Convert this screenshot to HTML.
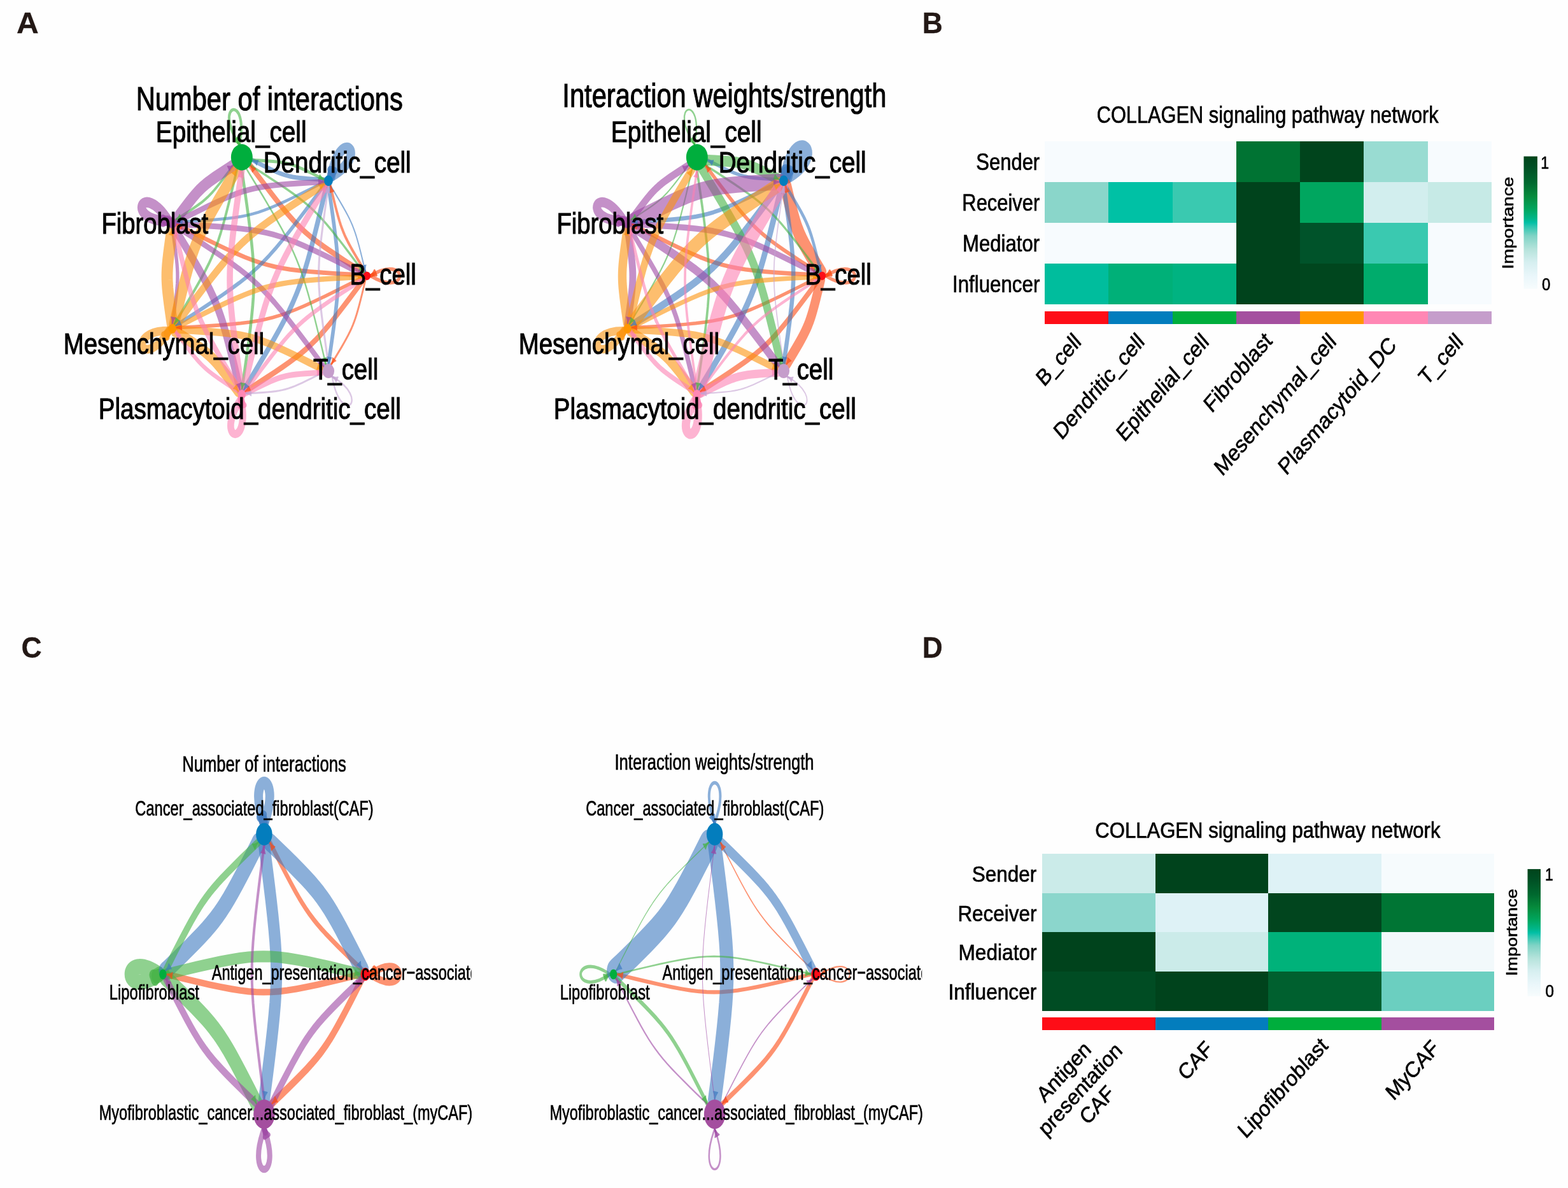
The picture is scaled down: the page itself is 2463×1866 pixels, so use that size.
<!DOCTYPE html>
<html lang="en"><head><meta charset="utf-8"><title>Figure</title>
<style>
html,body{margin:0;padding:0;background:#fefefe;}
body{width:2463px;height:1866px;overflow:hidden;}
svg{display:block;font-family:'Liberation Sans', sans-serif;}

</style></head>
<body>
<svg width="2463" height="1866" viewBox="0 0 2463 1866">
<rect width="2463" height="1866" fill="#fefefe"/>
<g fill="#231815">
<text transform="translate(26.08 52) scale(1.0250 1)" font-size="46.94" font-weight="bold" fill="#231815" stroke="#231815" stroke-width="0.3">A</text>
<text transform="translate(1448.87 52) scale(0.9448 1)" font-size="46.94" font-weight="bold" fill="#231815" stroke="#231815" stroke-width="0.3">B</text>
<text transform="translate(33.38 1032.6) scale(0.9484 1)" font-size="46.94" font-weight="bold" fill="#231815" stroke="#231815" stroke-width="0.3">C</text>
<text transform="translate(1448.87 1032.6) scale(0.9448 1)" font-size="46.94" font-weight="bold" fill="#231815" stroke="#231815" stroke-width="0.3">D</text>
</g>
<g shape-rendering="crispEdges">
<rect x="1641.2" y="221.7" width="100.74" height="64.58" fill="#f7fbfe"/>
<rect x="1741.44" y="221.7" width="100.74" height="64.58" fill="#f7fbfe"/>
<rect x="1841.69" y="221.7" width="100.74" height="64.58" fill="#f7fbfe"/>
<rect x="1941.93" y="221.7" width="100.74" height="64.58" fill="#007333"/>
<rect x="2042.17" y="221.7" width="100.74" height="64.58" fill="#00441c"/>
<rect x="2142.41" y="221.7" width="100.74" height="64.58" fill="#99dcd2"/>
<rect x="2242.66" y="221.7" width="100.24" height="64.58" fill="#f7fbfe"/>
<rect x="1641.2" y="285.77" width="100.74" height="64.58" fill="#8ad6ca"/>
<rect x="1741.44" y="285.77" width="100.74" height="64.58" fill="#00c1a5"/>
<rect x="1841.69" y="285.77" width="100.74" height="64.58" fill="#3ac9b0"/>
<rect x="1941.93" y="285.77" width="100.74" height="64.58" fill="#00431c"/>
<rect x="2042.17" y="285.77" width="100.74" height="64.58" fill="#00a65f"/>
<rect x="2142.41" y="285.77" width="100.74" height="64.58" fill="#d2eeee"/>
<rect x="2242.66" y="285.77" width="100.24" height="64.58" fill="#c6eae6"/>
<rect x="1641.2" y="349.85" width="100.74" height="64.58" fill="#f7fbfe"/>
<rect x="1741.44" y="349.85" width="100.74" height="64.58" fill="#f7fbfe"/>
<rect x="1841.69" y="349.85" width="100.74" height="64.58" fill="#f7fbfe"/>
<rect x="1941.93" y="349.85" width="100.74" height="64.58" fill="#00431c"/>
<rect x="2042.17" y="349.85" width="100.74" height="64.58" fill="#00532a"/>
<rect x="2142.41" y="349.85" width="100.74" height="64.58" fill="#3ac9b0"/>
<rect x="2242.66" y="349.85" width="100.24" height="64.58" fill="#f7fbfe"/>
<rect x="1641.2" y="413.93" width="100.74" height="64.08" fill="#00bd9d"/>
<rect x="1741.44" y="413.93" width="100.74" height="64.08" fill="#00b078"/>
<rect x="1841.69" y="413.93" width="100.74" height="64.08" fill="#00b381"/>
<rect x="1941.93" y="413.93" width="100.74" height="64.08" fill="#00431c"/>
<rect x="2042.17" y="413.93" width="100.74" height="64.08" fill="#00461e"/>
<rect x="2142.41" y="413.93" width="100.74" height="64.08" fill="#00ac6c"/>
<rect x="2242.66" y="413.93" width="100.24" height="64.08" fill="#f7fbfe"/>
<rect x="1641.2" y="488.7" width="100.74" height="19.9" fill="#fe0d17"/>
<rect x="1741.44" y="488.7" width="100.74" height="19.9" fill="#037dbd"/>
<rect x="1841.69" y="488.7" width="100.74" height="19.9" fill="#00ae3d"/>
<rect x="1941.93" y="488.7" width="100.74" height="19.9" fill="#a44f9f"/>
<rect x="2042.17" y="488.7" width="100.74" height="19.9" fill="#ff9600"/>
<rect x="2142.41" y="488.7" width="100.74" height="19.9" fill="#ff87b4"/>
<rect x="2242.66" y="488.7" width="100.24" height="19.9" fill="#c59dcb"/>
</g>
<linearGradient id="lgB" x1="0" y1="0" x2="0" y2="1"><stop offset="0" stop-color="#00441b"/><stop offset="0.08" stop-color="#004f24"/><stop offset="0.2" stop-color="#00692f"/><stop offset="0.3" stop-color="#068a3c"/><stop offset="0.4" stop-color="#00a65e"/><stop offset="0.47" stop-color="#00b689"/><stop offset="0.5" stop-color="#00bfa5"/><stop offset="0.53" stop-color="#2cc6b0"/><stop offset="0.6" stop-color="#7fd3c5"/><stop offset="0.7" stop-color="#b5e3db"/><stop offset="0.8" stop-color="#d6eff0"/><stop offset="0.9" stop-color="#e9f6fa"/><stop offset="1" stop-color="#f7fcfd"/></linearGradient>
<rect x="2393.5" y="245.6" width="21.4" height="208.1" fill="url(#lgB)"/>
<text transform="translate(1722.67 193) scale(0.8227 1)" font-size="37.41" stroke="#000" stroke-width="0.7">COLLAGEN signaling pathway network</text>
<text transform="translate(1533.26 267.2) scale(0.8286 1)" font-size="37.41" stroke="#000" stroke-width="0.7">Sender</text>
<text transform="translate(1511.34 330.6) scale(0.8255 1)" font-size="37.41" stroke="#000" stroke-width="0.7">Receiver</text>
<text transform="translate(1512.02 394.9) scale(0.8322 1)" font-size="37.41" stroke="#000" stroke-width="0.7">Mediator</text>
<text transform="translate(1495.99 459) scale(0.8360 1)" font-size="37.41" stroke="#000" stroke-width="0.7">Influencer</text>
<text transform="translate(2420.37 264.5) scale(0.8154 1)" font-size="28.45" stroke="#000" stroke-width="0.7">1</text>
<text transform="translate(2421.97 455.6) scale(0.8643 1)" font-size="27.74" stroke="#000" stroke-width="0.7">0</text>
<text transform="translate(2376.55 350.2) scale(0.8340 1.0000) rotate(-90)" font-size="29" text-anchor="middle" stroke="#000" stroke-width="0.7">Importance</text>
<text transform="translate(1700 538.7) scale(0.8580 1.0000) rotate(-45)" font-size="36.2" text-anchor="end" stroke="#000" stroke-width="0.7">B_cell</text>
<text transform="translate(1799.45 538.65) scale(0.8580 1.0000) rotate(-45)" font-size="36.2" text-anchor="end" stroke="#000" stroke-width="0.7">Dendritic_cell</text>
<text transform="translate(1900.55 538.85) scale(0.8580 1.0000) rotate(-45)" font-size="36.2" text-anchor="end" stroke="#000" stroke-width="0.7">Epithelial_cell</text>
<text transform="translate(1999.9 537.35) scale(0.8580 1.0000) rotate(-45)" font-size="36.2" text-anchor="end" stroke="#000" stroke-width="0.7">Fibroblast</text>
<text transform="translate(2100.6 538.55) scale(0.8580 1.0000) rotate(-45)" font-size="36.2" text-anchor="end" stroke="#000" stroke-width="0.7">Mesenchymal_cell</text>
<text transform="translate(2195.1 544.3) scale(0.8580 1.0000) rotate(-45)" font-size="36.2" text-anchor="end" stroke="#000" stroke-width="0.7">Plasmacytoid_DC</text>
<text transform="translate(2299.85 538.8) scale(0.8580 1.0000) rotate(-45)" font-size="36.2" text-anchor="end" stroke="#000" stroke-width="0.7">T_cell</text>
<g shape-rendering="crispEdges">
<rect x="1637.2" y="1341" width="178.03" height="62.23" fill="#cbebe9"/>
<rect x="1814.73" y="1341" width="178.03" height="62.23" fill="#00431c"/>
<rect x="1992.25" y="1341" width="178.03" height="62.23" fill="#def2f6"/>
<rect x="2169.78" y="1341" width="177.53" height="62.23" fill="#f6fbfd"/>
<rect x="1637.2" y="1402.72" width="178.03" height="62.23" fill="#8bd6cc"/>
<rect x="1814.73" y="1402.72" width="178.03" height="62.23" fill="#def2f6"/>
<rect x="1992.25" y="1402.72" width="178.03" height="62.23" fill="#01451e"/>
<rect x="2169.78" y="1402.72" width="177.53" height="62.23" fill="#007534"/>
<rect x="1637.2" y="1464.45" width="178.03" height="62.23" fill="#00431c"/>
<rect x="1814.73" y="1464.45" width="178.03" height="62.23" fill="#cbebe9"/>
<rect x="1992.25" y="1464.45" width="178.03" height="62.23" fill="#00b27a"/>
<rect x="2169.78" y="1464.45" width="177.53" height="62.23" fill="#f2f9fb"/>
<rect x="1637.2" y="1526.18" width="178.03" height="61.73" fill="#004c23"/>
<rect x="1814.73" y="1526.18" width="178.03" height="61.73" fill="#00431c"/>
<rect x="1992.25" y="1526.18" width="178.03" height="61.73" fill="#00602f"/>
<rect x="2169.78" y="1526.18" width="177.53" height="61.73" fill="#6bcfc0"/>
<rect x="1637.2" y="1597.8" width="178.03" height="19.7" fill="#fe0d17"/>
<rect x="1814.73" y="1597.8" width="178.03" height="19.7" fill="#037dbd"/>
<rect x="1992.25" y="1597.8" width="178.03" height="19.7" fill="#00ae3d"/>
<rect x="2169.78" y="1597.8" width="177.53" height="19.7" fill="#a44f9f"/>
</g>
<linearGradient id="lgD" x1="0" y1="0" x2="0" y2="1"><stop offset="0" stop-color="#00441b"/><stop offset="0.08" stop-color="#004f24"/><stop offset="0.2" stop-color="#00692f"/><stop offset="0.3" stop-color="#068a3c"/><stop offset="0.4" stop-color="#00a65e"/><stop offset="0.47" stop-color="#00b689"/><stop offset="0.5" stop-color="#00bfa5"/><stop offset="0.53" stop-color="#2cc6b0"/><stop offset="0.6" stop-color="#7fd3c5"/><stop offset="0.7" stop-color="#b5e3db"/><stop offset="0.8" stop-color="#d6eff0"/><stop offset="0.9" stop-color="#e9f6fa"/><stop offset="1" stop-color="#f7fcfd"/></linearGradient>
<rect x="2399.5" y="1365.1" width="20.5" height="199.6" fill="url(#lgD)"/>
<text transform="translate(1720.34 1315.6) scale(0.9065 1)" font-size="34.28" stroke="#000" stroke-width="0.7">COLLAGEN signaling pathway network</text>
<text transform="translate(1526.82 1384.9) scale(0.9183 1)" font-size="34.28" stroke="#000" stroke-width="0.7">Sender</text>
<text transform="translate(1504.41 1446.8) scale(0.9177 1)" font-size="34.28" stroke="#000" stroke-width="0.7">Receiver</text>
<text transform="translate(1505.49 1508.4) scale(0.9234 1)" font-size="34.28" stroke="#000" stroke-width="0.7">Mediator</text>
<text transform="translate(1489.43 1569.5) scale(0.9227 1)" font-size="34.28" stroke="#000" stroke-width="0.7">Influencer</text>
<text transform="translate(2426.94 1383.1) scale(0.8320 1)" font-size="27.6" stroke="#000" stroke-width="0.7">1</text>
<text transform="translate(2427.55 1565.6) scale(0.9037 1)" font-size="26.74" stroke="#000" stroke-width="0.7">0</text>
<text transform="translate(2382.55 1464.5) scale(0.8940 1.0000) rotate(-90)" font-size="27.4" text-anchor="middle" stroke="#000" stroke-width="0.7">Importance</text>
<text transform="translate(1906.9 1649.9) scale(0.9000 1.0000) rotate(-45)" font-size="34.5" text-anchor="end" stroke="#000" stroke-width="0.7">CAF</text>
<text transform="translate(2087.55 1644.35) scale(0.9000 1.0000) rotate(-45)" font-size="34.5" text-anchor="end" stroke="#000" stroke-width="0.7">Lipofibroblast</text>
<text transform="translate(2262.45 1648.35) scale(0.9000 1.0000) rotate(-45)" font-size="34.5" text-anchor="end" stroke="#000" stroke-width="0.7">MyCAF</text>
<text transform="translate(1678.5 1691.75) scale(0.9000 1.0000) rotate(-45)" font-size="34.5" text-anchor="middle" stroke="#000" stroke-width="0.7">Antigen</text>
<text transform="translate(1704.2 1719.2) scale(0.9000 1.0000) rotate(-45)" font-size="34.5" text-anchor="middle" stroke="#000" stroke-width="0.7">presentation</text>
<text transform="translate(1730.45 1743.95) scale(0.9000 1.0000) rotate(-45)" font-size="34.5" text-anchor="middle" stroke="#000" stroke-width="0.7">CAF</text>
<g transform="translate(423.6 433.35) scale(1 1.2188)" fill="none" stroke-linecap="round" stroke-linejoin="round">
<path d="M158.4 0 C219.56 -30.58 219.56 30.58 158.4 0Z" stroke="#fb4a12" stroke-opacity="0.6" stroke-width="4.6"/>
<path d="M162.07 -1.76 L158.4 0" stroke="#fb4a12" stroke-opacity="0.6" stroke-width="4.6"/>
<polygon points="164.66,-6.76 164.11,-5.81 163.45,-4.81 162.62,-3.73 161.46,-2.49 158.27,-0.28 158.54,0.28 162.26,-0.82 163.95,-0.95 165.32,-0.92 166.51,-0.81 167.59,-0.65" fill="#fb4a12" stroke="#fb4a12" opacity="0.75" stroke-width="3.22"/>
<path d="M96.62 -128 C110.85 -194.88 158.66 -156.75 96.62 -128Z" stroke="#3e7ac0" stroke-opacity="0.6" stroke-width="13.4"/>
<path d="M97.53 -131.96 L96.62 -128" stroke="#3e7ac0" stroke-opacity="0.6" stroke-width="13.4"/>
<polygon points="95.24,-137.1 95.64,-136.08 96.01,-134.94 96.34,-133.62 96.58,-131.93 96.32,-128.06 96.92,-127.93 98.38,-131.52 99.34,-132.93 100.21,-133.98 101.04,-134.84 101.84,-135.58" fill="#3e7ac0" stroke="#3e7ac0" opacity="0.75" stroke-width="9.38"/>
<path d="M-47.54 -169.45 C-90.96 -222.27 -31.33 -235.88 -47.54 -169.45Z" stroke="#44b244" stroke-opacity="0.6" stroke-width="4.05"/>
<path d="M-50.07 -172.63 L-47.54 -169.45" stroke="#44b244" stroke-opacity="0.6" stroke-width="4.05"/>
<polygon points="-55.52,-174.04 -54.47,-173.72 -53.35,-173.3 -52.11,-172.73 -50.64,-171.87 -47.78,-169.26 -47.3,-169.64 -49.2,-173.02 -49.7,-174.64 -49.98,-175.98 -50.13,-177.17 -50.21,-178.26" fill="#44b244" stroke="#44b244" opacity="0.75" stroke-width="2.84"/>
<path d="M-159.1 -71.03 C-227.47 -70.02 -200.93 -125.12 -159.1 -71.03Z" stroke="#9d46a3" stroke-opacity="0.6" stroke-width="13.4"/>
<path d="M-163.17 -71.04 L-159.1 -71.03" stroke="#9d46a3" stroke-opacity="0.6" stroke-width="13.4"/>
<polygon points="-167.67,-67.66 -166.76,-68.27 -165.73,-68.89 -164.52,-69.5 -162.93,-70.12 -159.1,-70.73 -159.1,-71.34 -162.93,-71.96 -164.51,-72.58 -165.73,-73.2 -166.75,-73.82 -167.66,-74.43" fill="#9d46a3" stroke="#9d46a3" opacity="0.75" stroke-width="9.38"/>
<path d="M-158.41 70.7 C-200.25 124.79 -226.78 69.69 -158.41 70.7Z" stroke="#fc930d" stroke-opacity="0.6" stroke-width="11.2"/>
<path d="M-160.95 73.88 L-158.41 70.7" stroke="#fc930d" stroke-opacity="0.6" stroke-width="11.2"/>
<polygon points="-161.11,79.5 -161.03,78.41 -160.87,77.23 -160.59,75.89 -160.08,74.27 -158.17,70.89 -158.65,70.51 -161.52,73.11 -163,73.97 -164.24,74.53 -165.36,74.95 -166.41,75.27" fill="#fc930d" stroke="#fc930d" opacity="0.75" stroke-width="7.84"/>
<path d="M-45.12 158.86 C-28.92 225.29 -88.54 211.68 -45.12 158.86Z" stroke="#fc80b2" stroke-opacity="0.6" stroke-width="10.65"/>
<path d="M-44.22 162.83 L-45.12 158.86" stroke="#fc80b2" stroke-opacity="0.6" stroke-width="10.65"/>
<polygon points="-39.93,166.46 -40.73,165.72 -41.55,164.85 -42.42,163.8 -43.38,162.39 -44.82,158.8 -45.42,158.93 -45.18,162.8 -45.43,164.48 -45.76,165.81 -46.13,166.94 -46.53,167.96" fill="#fc80b2" stroke="#fc80b2" opacity="0.75" stroke-width="7.46"/>
<path d="M98.05 129.79 C160.09 158.54 112.28 196.67 98.05 129.79Z" stroke="#c5a3d2" stroke-opacity="0.6" stroke-width="2.4"/>
<path d="M101.71 131.56 L98.05 129.79" stroke="#c5a3d2" stroke-opacity="0.6" stroke-width="2.4"/>
<polygon points="107.24,130.47 106.15,130.63 104.96,130.74 103.6,130.76 101.9,130.63 98.19,129.51 97.92,130.06 101.1,132.29 102.26,133.53 103.09,134.62 103.74,135.62 104.29,136.57" fill="#c5a3d2" stroke="#c5a3d2" opacity="0.75" stroke-width="1.68"/>
<path d="M150.46 -4.94 L150.29 -5.16 L149.25 -6.56 L146.88 -9.76 L143.24 -14.7 L138.83 -20.76 L134.24 -27.15 L129.94 -33.28 L126.14 -38.87 L122.88 -43.89 L120.1 -48.46 L117.67 -52.78 L115.49 -57.02 L113.45 -61.33 L111.5 -65.88 L109.56 -70.87 L107.55 -76.51 L105.42 -82.92 L103.16 -90.06 L100.87 -97.59 L98.74 -104.78 L97.03 -110.67 L95.93 -114.5 L95.46 -116.18 L95.38 -116.45" stroke="#fb4a12" stroke-opacity="0.6" stroke-width="3.83"/>
<path d="M148.55 -3.38 L148.1 -3.61 L145.28 -5.08 L138.84 -8.44 L128.96 -13.65 L116.91 -20.08 L104.3 -26.92 L92.37 -33.56 L81.71 -39.71 L72.38 -45.35 L64.18 -50.64 L56.78 -55.78 L49.82 -61 L43.05 -66.46 L36.24 -72.37 L29.1 -79.01 L21.33 -86.65 L12.74 -95.48 L3.36 -105.4 L-6.38 -115.93 L-15.58 -126.02 L-23.07 -134.32 L-27.91 -139.73 L-30.02 -142.1 L-30.36 -142.48" stroke="#fb4a12" stroke-opacity="0.6" stroke-width="7.35"/>
<path d="M147.53 -1.2 L146.85 -1.22 L142.63 -1.37 L133 -1.75 L118.18 -2.39 L100.06 -3.27 L81.05 -4.32 L62.96 -5.52 L46.67 -6.84 L32.27 -8.32 L19.43 -10.01 L7.63 -11.98 L-3.69 -14.29 L-14.91 -17 L-26.44 -20.22 L-38.78 -24.13 L-52.45 -28.9 L-67.77 -34.61 L-84.66 -41.2 L-102.32 -48.3 L-119.1 -55.19 L-132.79 -60.9 L-141.67 -64.64 L-145.56 -66.29 L-146.18 -66.55" stroke="#fb4a12" stroke-opacity="0.6" stroke-width="5.7"/>
<path d="M147.53 1.2 L146.9 1.46 L143.01 3.12 L134.1 6.86 L120.37 12.59 L103.55 19.49 L85.84 26.62 L68.91 33.22 L53.55 38.95 L39.85 43.72 L27.48 47.65 L15.92 50.88 L4.67 53.59 L-6.68 55.91 L-18.51 57.88 L-31.38 59.57 L-45.82 61.06 L-62.15 62.38 L-80.29 63.58 L-99.34 64.64 L-117.51 65.52 L-132.37 66.16 L-142.02 66.54 L-146.25 66.69 L-146.93 66.72" stroke="#fb4a12" stroke-opacity="0.6" stroke-width="4.6"/>
<path d="M148.55 3.38 L148.2 3.78 L145.98 6.27 L140.91 11.93 L133.06 20.63 L123.42 31.21 L113.22 42.24 L103.39 52.64 L94.39 61.88 L86.25 69.9 L78.76 76.85 L71.63 83.04 L64.53 88.76 L57.24 94.23 L49.48 99.62 L40.89 105.16 L31.12 111.07 L19.94 117.52 L7.44 124.48 L-5.77 131.65 L-18.4 138.39 L-28.76 143.85 L-35.5 147.37 L-38.46 148.9 L-38.93 149.15" stroke="#fb4a12" stroke-opacity="0.6" stroke-width="7.35"/>
<path d="M150.46 4.94 L150.39 5.2 L149.92 6.85 L148.84 10.61 L147.16 16.39 L145.07 23.44 L142.82 30.83 L140.61 37.85 L138.52 44.14 L136.55 49.67 L134.64 54.57 L132.73 59.03 L130.73 63.27 L128.58 67.43 L126.2 71.66 L123.47 76.15 L120.27 81.08 L116.54 86.56 L112.32 92.59 L107.82 98.86 L103.48 104.81 L99.91 109.66 L97.59 112.8 L96.56 114.17 L96.4 114.39" stroke="#fb4a12" stroke-opacity="0.6" stroke-width="2.84"/>
<path d="M95.38 -116.45 L95.55 -116.22 L96.59 -114.82 L98.97 -111.63 L102.6 -106.69 L107.01 -100.63 L111.6 -94.23 L115.91 -88.1 L119.7 -82.51 L122.96 -77.49 L125.74 -72.92 L128.17 -68.61 L130.36 -64.36 L132.39 -60.05 L134.34 -55.5 L136.28 -50.51 L138.29 -44.88 L140.42 -38.46 L142.68 -31.32 L144.97 -23.79 L147.1 -16.6 L148.81 -10.71 L149.91 -6.88 L150.39 -5.21 L150.46 -4.94" stroke="#3e7ac0" stroke-opacity="0.6" stroke-width="1.96"/>
<path d="M85.62 -124.11 L85.35 -124.12 L83.74 -124.18 L80.04 -124.32 L74.34 -124.57 L67.39 -124.91 L60.08 -125.31 L53.14 -125.77 L46.88 -126.28 L41.35 -126.85 L36.42 -127.5 L31.88 -128.25 L27.54 -129.14 L23.23 -130.18 L18.8 -131.42 L14.06 -132.92 L8.81 -134.75 L2.92 -136.94 L-3.56 -139.48 L-10.35 -142.2 L-16.79 -144.85 L-22.05 -147.04 L-25.46 -148.48 L-26.95 -149.11 L-27.19 -149.21" stroke="#3e7ac0" stroke-opacity="0.6" stroke-width="5.7"/>
<path d="M85.62 -121.12 L85.12 -120.91 L82.06 -119.61 L75.05 -116.66 L64.24 -112.16 L51 -106.72 L37.06 -101.11 L23.73 -95.91 L11.64 -91.4 L0.85 -87.64 L-8.89 -84.55 L-17.98 -82.01 L-26.85 -79.88 L-35.77 -78.05 L-45.09 -76.5 L-55.22 -75.17 L-66.58 -74 L-79.45 -72.95 L-93.72 -72.01 L-108.72 -71.18 L-123.02 -70.49 L-134.72 -69.98 L-142.32 -69.68 L-145.65 -69.56 L-146.18 -69.54" stroke="#3e7ac0" stroke-opacity="0.6" stroke-width="3.83"/>
<path d="M86.9 -118.39 L86.45 -117.89 L83.68 -114.77 L77.32 -107.67 L67.49 -96.78 L55.4 -83.52 L42.61 -69.69 L30.3 -56.66 L19.02 -45.07 L8.81 -35.03 L-0.57 -26.31 L-9.51 -18.55 L-18.41 -11.39 L-27.54 -4.53 L-37.27 2.22 L-48.03 9.17 L-60.28 16.58 L-74.29 24.66 L-89.96 33.38 L-106.51 42.36 L-122.34 50.81 L-135.32 57.65 L-143.77 62.06 L-147.47 63.98 L-148.07 64.29" stroke="#3e7ac0" stroke-opacity="0.6" stroke-width="5.15"/>
<path d="M89.29 -116.45 L89.1 -115.81 L87.98 -111.84 L85.38 -102.78 L81.33 -88.84 L76.29 -71.83 L70.87 -54.02 L65.53 -37.11 L60.49 -21.94 L55.74 -8.6 L51.15 3.2 L46.53 13.96 L41.71 24.17 L36.53 34.21 L30.79 44.42 L24.2 55.23 L16.5 67.11 L7.52 80.34 L-2.67 94.85 L-13.52 109.98 L-23.96 124.32 L-32.57 136.01 L-38.19 143.58 L-40.65 146.88 L-41.05 147.42" stroke="#3e7ac0" stroke-opacity="0.6" stroke-width="7.35"/>
<path d="M92.33 -115.74 L92.43 -115.23 L93.01 -112.07 L94.32 -104.84 L96.3 -93.72 L98.64 -80.1 L101 -65.8 L103.11 -52.15 L104.82 -39.82 L106.1 -28.87 L106.97 -19.04 L107.46 -9.94 L107.61 -1.15 L107.46 7.65 L106.97 16.75 L106.1 26.57 L104.82 37.52 L103.11 49.86 L101 63.5 L98.64 77.81 L96.3 91.42 L94.32 102.55 L93.01 109.77 L92.43 112.93 L92.33 113.44" stroke="#3e7ac0" stroke-opacity="0.6" stroke-width="5.7"/>
<path d="M-30.36 -142.48 L-29.91 -142.25 L-27.09 -140.78 L-20.65 -137.42 L-10.77 -132.21 L1.29 -125.78 L13.89 -118.94 L25.82 -112.3 L36.49 -106.15 L45.81 -100.51 L54.01 -95.22 L61.41 -90.08 L68.37 -84.86 L75.14 -79.4 L81.95 -73.5 L89.1 -66.85 L96.86 -59.21 L105.45 -50.39 L114.83 -40.46 L124.57 -29.93 L133.77 -19.84 L141.26 -11.54 L146.1 -6.14 L148.21 -3.76 L148.55 -3.38" stroke="#44b244" stroke-opacity="0.6" stroke-width="3.06"/>
<path d="M-27.19 -149.21 L-26.93 -149.2 L-25.31 -149.15 L-21.62 -149 L-15.92 -148.75 L-8.96 -148.42 L-1.66 -148.01 L5.29 -147.55 L11.54 -147.04 L17.07 -146.48 L22 -145.83 L26.54 -145.07 L30.88 -144.18 L35.2 -143.14 L39.62 -141.91 L44.36 -140.4 L49.61 -138.57 L55.5 -136.38 L61.98 -133.85 L68.77 -131.12 L75.21 -128.47 L80.47 -126.28 L83.88 -124.85 L85.38 -124.21 L85.62 -124.11" stroke="#44b244" stroke-opacity="0.6" stroke-width="4.05"/>
<path d="M-57.16 -142.48 L-57.33 -142.29 L-58.4 -141.09 L-60.84 -138.36 L-64.62 -134.17 L-69.27 -129.08 L-74.18 -123.77 L-78.91 -118.76 L-83.25 -114.3 L-87.17 -110.44 L-90.78 -107.09 L-94.21 -104.11 L-97.63 -101.36 L-101.15 -98.72 L-104.88 -96.13 L-109.02 -93.46 L-113.73 -90.61 L-119.11 -87.5 L-125.13 -84.15 L-131.49 -80.7 L-137.58 -77.45 L-142.57 -74.82 L-145.81 -73.13 L-147.24 -72.39 L-147.47 -72.27" stroke="#44b244" stroke-opacity="0.6" stroke-width="3.5"/>
<path d="M-51.28 -137.68 L-51.41 -137.2 L-52.27 -134.18 L-54.24 -127.31 L-57.32 -116.73 L-61.14 -103.83 L-65.25 -90.31 L-69.31 -77.47 L-73.13 -65.96 L-76.74 -55.84 L-80.22 -46.88 L-83.72 -38.72 L-87.38 -30.97 L-91.31 -23.35 L-95.67 -15.6 L-100.67 -7.4 L-106.51 1.62 L-113.33 11.66 L-121.06 22.67 L-129.3 34.15 L-137.22 45.04 L-143.75 53.91 L-148.02 59.65 L-149.89 62.16 L-150.19 62.56" stroke="#44b244" stroke-opacity="0.6" stroke-width="3.83"/>
<path d="M-43.76 -135.93 L-43.64 -135.3 L-42.92 -131.4 L-41.31 -122.49 L-38.87 -108.77 L-35.97 -91.97 L-33.06 -74.32 L-30.47 -57.49 L-28.36 -42.27 L-26.77 -28.77 L-25.7 -16.65 L-25.1 -5.42 L-24.91 5.43 L-25.1 16.28 L-25.7 27.51 L-26.77 39.62 L-28.36 53.13 L-30.47 68.35 L-33.06 85.18 L-35.97 102.83 L-38.87 119.62 L-41.31 133.35 L-42.92 142.26 L-43.64 146.16 L-43.76 146.78" stroke="#44b244" stroke-opacity="0.6" stroke-width="4.6"/>
<path d="M-36.24 -137.68 L-35.86 -137.17 L-33.51 -134.02 L-28.14 -126.78 L-19.92 -115.62 L-9.94 -101.92 L0.43 -87.47 L10.15 -73.6 L18.74 -60.96 L26.1 -49.62 L32.39 -39.28 L37.87 -29.54 L42.82 -19.95 L47.43 -10.19 L51.84 0.09 L56.22 11.36 L60.76 24.1 L65.58 38.6 L70.68 54.75 L75.85 71.77 L80.67 88.02 L84.54 101.33 L87.02 109.99 L88.1 113.78 L88.27 114.39" stroke="#44b244" stroke-opacity="0.6" stroke-width="2.4"/>
<path d="M-146.18 -66.55 L-145.5 -66.53 L-141.29 -66.37 L-131.66 -66 L-116.83 -65.36 L-98.72 -64.48 L-79.71 -63.42 L-61.62 -62.23 L-45.33 -60.91 L-30.93 -59.43 L-18.09 -57.74 L-6.29 -55.77 L5.03 -53.45 L16.26 -50.75 L27.78 -47.53 L40.13 -43.62 L53.79 -38.85 L69.11 -33.14 L86 -26.55 L103.66 -19.45 L120.44 -12.56 L134.14 -6.85 L143.02 -3.11 L146.9 -1.46 L147.53 -1.2" stroke="#9d46a3" stroke-opacity="0.6" stroke-width="7.35"/>
<path d="M-146.18 -69.54 L-145.69 -69.75 L-142.62 -71.05 L-135.62 -74 L-124.81 -78.51 L-111.57 -83.95 L-97.62 -89.55 L-84.3 -94.75 L-72.21 -99.26 L-61.42 -103.02 L-51.68 -106.11 L-42.58 -108.65 L-33.72 -110.78 L-24.79 -112.61 L-15.48 -114.16 L-5.34 -115.5 L6.02 -116.67 L18.88 -117.71 L33.15 -118.65 L48.16 -119.49 L62.45 -120.18 L74.15 -120.68 L81.75 -120.98 L85.08 -121.1 L85.62 -121.12" stroke="#9d46a3" stroke-opacity="0.6" stroke-width="7.35"/>
<path d="M-147.47 -72.27 L-147.3 -72.46 L-146.23 -73.66 L-143.79 -76.39 L-140.01 -80.58 L-135.36 -85.67 L-130.45 -90.99 L-125.71 -96 L-121.38 -100.45 L-117.46 -104.31 L-113.85 -107.66 L-110.41 -110.64 L-106.99 -113.4 L-103.48 -116.03 L-99.75 -118.63 L-95.61 -121.3 L-90.9 -124.14 L-85.52 -127.25 L-79.5 -130.6 L-73.13 -134.05 L-67.05 -137.3 L-62.06 -139.93 L-58.81 -141.63 L-57.39 -142.36 L-57.16 -142.48" stroke="#9d46a3" stroke-opacity="0.6" stroke-width="15.05"/>
<path d="M-152.9 -61.17 L-152.85 -60.89 L-152.54 -59.2 L-151.83 -55.32 L-150.77 -49.34 L-149.51 -42.03 L-148.24 -34.34 L-147.11 -27.01 L-146.19 -20.39 L-145.5 -14.51 L-145.04 -9.23 L-144.78 -4.34 L-144.69 0.38 L-144.78 5.11 L-145.04 10 L-145.5 15.27 L-146.19 21.15 L-147.11 27.78 L-148.24 35.11 L-149.51 42.79 L-150.77 50.1 L-151.83 56.08 L-152.54 59.96 L-152.85 61.66 L-152.9 61.93" stroke="#9d46a3" stroke-opacity="0.6" stroke-width="5.26"/>
<path d="M-149.85 -61.88 L-149.54 -61.46 L-147.58 -58.83 L-143.12 -52.83 L-136.3 -43.56 L-128.01 -32.19 L-119.41 -20.18 L-111.33 -8.67 L-104.2 1.82 L-98.09 11.24 L-92.87 19.82 L-88.31 27.91 L-84.21 35.88 L-80.38 43.98 L-76.72 52.51 L-73.08 61.87 L-69.31 72.45 L-65.31 84.49 L-61.08 97.9 L-56.78 112.03 L-52.78 125.52 L-49.57 136.57 L-47.51 143.76 L-46.61 146.91 L-46.47 147.42" stroke="#9d46a3" stroke-opacity="0.6" stroke-width="11.2"/>
<path d="M-147.47 -63.82 L-146.88 -63.52 L-143.21 -61.62 L-134.85 -57.25 L-122 -50.48 L-106.33 -42.12 L-89.95 -33.22 L-74.44 -24.59 L-60.58 -16.6 L-48.46 -9.26 L-37.8 -2.39 L-28.18 4.29 L-19.14 11.08 L-10.33 18.17 L-1.48 25.85 L7.8 34.48 L17.9 44.42 L29.07 55.89 L41.26 68.79 L53.91 82.47 L65.88 95.59 L75.61 106.37 L81.9 113.4 L84.65 116.49 L85.09 116.99" stroke="#9d46a3" stroke-opacity="0.6" stroke-width="7.35"/>
<path d="M-146.93 66.72 L-146.3 66.45 L-142.41 64.8 L-133.51 61.05 L-119.77 55.33 L-102.95 48.42 L-85.25 41.3 L-68.31 34.69 L-52.96 28.97 L-39.26 24.19 L-26.88 20.27 L-15.33 17.04 L-4.07 14.33 L7.27 12.01 L19.11 10.03 L31.98 8.34 L46.41 6.86 L62.75 5.53 L80.88 4.33 L99.94 3.27 L118.1 2.4 L132.97 1.75 L142.62 1.37 L146.84 1.22 L147.53 1.2" stroke="#fc930d" stroke-opacity="0.6" stroke-width="6.8"/>
<path d="M-148.07 64.29 L-147.62 63.79 L-144.85 60.67 L-138.49 53.57 L-128.66 42.68 L-116.57 29.42 L-103.78 15.59 L-91.47 2.56 L-80.19 -9.03 L-69.98 -19.07 L-60.6 -27.79 L-51.66 -35.55 L-42.76 -42.71 L-33.63 -49.57 L-23.9 -56.32 L-13.14 -63.27 L-0.89 -70.68 L13.12 -78.76 L28.79 -87.48 L45.34 -96.46 L61.16 -104.91 L74.15 -111.75 L82.6 -116.16 L86.3 -118.08 L86.9 -118.39" stroke="#fc930d" stroke-opacity="0.6" stroke-width="10.1"/>
<path d="M-150.19 62.56 L-150.05 62.08 L-149.2 59.06 L-147.23 52.19 L-144.15 41.61 L-140.33 28.71 L-136.21 15.19 L-132.16 2.35 L-128.34 -9.16 L-124.73 -19.28 L-121.25 -28.24 L-117.75 -36.4 L-114.08 -44.15 L-110.16 -51.77 L-105.8 -59.52 L-100.8 -67.72 L-94.96 -76.74 L-88.14 -86.78 L-80.41 -97.79 L-72.17 -109.27 L-64.25 -120.16 L-57.72 -129.03 L-53.45 -134.77 L-51.58 -137.28 L-51.28 -137.68" stroke="#fc930d" stroke-opacity="0.6" stroke-width="16.15"/>
<path d="M-152.9 61.93 L-152.95 61.66 L-153.26 59.96 L-153.97 56.08 L-155.03 50.1 L-156.29 42.79 L-157.56 35.11 L-158.69 27.78 L-159.61 21.15 L-160.3 15.27 L-160.76 10 L-161.02 5.11 L-161.11 0.38 L-161.02 -4.34 L-160.76 -9.23 L-160.3 -14.51 L-159.61 -20.39 L-158.69 -27.01 L-157.56 -34.34 L-156.29 -42.03 L-155.03 -49.34 L-153.97 -55.32 L-153.26 -59.2 L-152.95 -60.89 L-152.9 -61.17" stroke="#fc930d" stroke-opacity="0.6" stroke-width="17.8"/>
<path d="M-148.07 71.8 L-147.82 71.93 L-146.25 72.74 L-142.67 74.61 L-137.18 77.51 L-130.47 81.09 L-123.47 84.89 L-116.83 88.58 L-110.9 92 L-105.72 95.14 L-101.16 98.08 L-97.04 100.94 L-93.17 103.84 L-89.41 106.88 L-85.62 110.16 L-81.65 113.85 L-77.33 118.1 L-72.55 123.01 L-67.34 128.53 L-61.93 134.38 L-56.81 139.99 L-52.65 144.61 L-49.95 147.61 L-48.78 148.93 L-48.59 149.15" stroke="#fc930d" stroke-opacity="0.6" stroke-width="14.5"/>
<path d="M-146.93 69.38 L-146.4 69.39 L-143.09 69.51 L-135.54 69.81 L-123.92 70.31 L-109.71 71 L-94.81 71.83 L-80.62 72.77 L-67.84 73.8 L-56.55 74.96 L-46.49 76.29 L-37.23 77.83 L-28.36 79.65 L-19.56 81.76 L-10.52 84.29 L-0.84 87.36 L9.88 91.1 L21.89 95.58 L35.13 100.74 L48.98 106.31 L62.14 111.71 L72.88 116.19 L79.84 119.12 L82.89 120.41 L83.38 120.62" stroke="#fc930d" stroke-opacity="0.6" stroke-width="9.55"/>
<path d="M-38.93 149.15 L-38.58 148.74 L-36.36 146.26 L-31.29 140.59 L-23.44 131.9 L-13.8 121.32 L-3.59 110.29 L6.23 99.89 L15.23 90.64 L23.37 82.63 L30.86 75.67 L38 69.48 L45.09 63.76 L52.38 58.29 L60.14 52.9 L68.73 47.37 L78.5 41.45 L89.68 35.01 L102.18 28.05 L115.39 20.88 L128.02 14.14 L138.38 8.68 L145.12 5.16 L148.08 3.62 L148.55 3.38" stroke="#fc80b2" stroke-opacity="0.6" stroke-width="5.7"/>
<path d="M-41.05 147.42 L-40.87 146.78 L-39.75 142.81 L-37.15 133.75 L-33.1 119.81 L-28.06 102.8 L-22.64 84.99 L-17.3 68.08 L-12.25 52.9 L-7.5 39.57 L-2.92 27.77 L1.7 17.01 L6.53 6.8 L11.7 -3.24 L17.44 -13.45 L24.03 -24.26 L31.73 -36.14 L40.72 -49.37 L50.9 -63.88 L61.75 -79.01 L72.2 -93.35 L80.8 -105.04 L86.42 -112.61 L88.89 -115.91 L89.29 -116.45" stroke="#fc80b2" stroke-opacity="0.6" stroke-width="9"/>
<path d="M-43.76 146.78 L-43.88 146.16 L-44.6 142.26 L-46.21 133.35 L-48.65 119.62 L-51.55 102.83 L-54.46 85.18 L-57.05 68.35 L-59.17 53.13 L-60.75 39.62 L-61.82 27.51 L-62.42 16.28 L-62.61 5.43 L-62.42 -5.42 L-61.82 -16.65 L-60.75 -28.77 L-59.17 -42.27 L-57.05 -57.49 L-54.46 -74.32 L-51.55 -91.97 L-48.65 -108.77 L-46.21 -122.49 L-44.6 -131.4 L-43.88 -135.3 L-43.76 -135.93" stroke="#fc80b2" stroke-opacity="0.6" stroke-width="9.55"/>
<path d="M-46.47 147.42 L-46.79 146.99 L-48.74 144.37 L-53.2 138.37 L-60.02 129.1 L-68.31 117.72 L-76.92 105.72 L-84.99 94.21 L-92.12 83.72 L-98.23 74.3 L-103.46 65.72 L-108.01 57.62 L-112.11 49.66 L-115.94 41.56 L-119.6 33.03 L-123.24 23.67 L-127.01 13.09 L-131.01 1.05 L-135.24 -12.36 L-139.54 -26.49 L-143.54 -39.98 L-146.76 -51.03 L-148.82 -58.22 L-149.71 -61.37 L-149.85 -61.88" stroke="#fc80b2" stroke-opacity="0.6" stroke-width="7.35"/>
<path d="M-48.59 149.15 L-48.84 149.02 L-50.41 148.2 L-53.99 146.33 L-59.49 143.44 L-66.19 139.86 L-73.19 136.06 L-79.83 132.36 L-85.76 128.94 L-90.94 125.81 L-95.5 122.87 L-99.62 120.01 L-103.49 117.11 L-107.25 114.07 L-111.04 110.79 L-115.01 107.1 L-119.33 102.84 L-124.11 97.94 L-129.32 92.42 L-134.73 86.57 L-139.85 80.95 L-144.02 76.34 L-146.71 73.33 L-147.88 72.01 L-148.07 71.8" stroke="#fc80b2" stroke-opacity="0.6" stroke-width="5.7"/>
<path d="M-37.79 151.57 L-37.53 151.46 L-35.93 150.78 L-32.27 149.24 L-26.62 146.88 L-19.7 144.04 L-12.41 141.11 L-5.44 138.39 L0.88 136.04 L6.52 134.07 L11.61 132.46 L16.36 131.13 L21 130.01 L25.66 129.06 L30.53 128.25 L35.83 127.55 L41.77 126.94 L48.49 126.39 L55.95 125.9 L63.8 125.46 L71.27 125.1 L77.39 124.84 L81.36 124.68 L83.1 124.62 L83.38 124.61" stroke="#fc80b2" stroke-opacity="0.6" stroke-width="7.35"/>
<path d="M92.33 113.44 L92.24 112.93 L91.65 109.77 L90.34 102.55 L88.37 91.42 L86.02 77.81 L83.66 63.5 L81.56 49.86 L79.84 37.52 L78.56 26.57 L77.69 16.75 L77.21 7.65 L77.05 -1.15 L77.21 -9.94 L77.69 -19.04 L78.56 -28.87 L79.84 -39.82 L81.56 -52.15 L83.66 -65.8 L86.02 -80.1 L88.37 -93.72 L90.34 -104.84 L91.65 -112.07 L92.24 -115.23 L92.33 -115.74" stroke="#c5a3d2" stroke-opacity="0.6" stroke-width="3.06"/>
<path d="M83.38 124.61 L83.12 124.72 L81.52 125.4 L77.85 126.94 L72.2 129.3 L65.28 132.14 L57.99 135.07 L51.03 137.79 L44.71 140.14 L39.07 142.11 L33.98 143.72 L29.22 145.05 L24.59 146.17 L19.92 147.12 L15.05 147.94 L9.76 148.63 L3.82 149.24 L-2.91 149.79 L-10.37 150.28 L-18.21 150.72 L-25.68 151.08 L-31.8 151.34 L-35.77 151.5 L-37.51 151.56 L-37.79 151.57" stroke="#c5a3d2" stroke-opacity="0.6" stroke-width="2.4"/>
<polygon points="101.05,-109.19 100.21,-109.89 99.32,-110.7 98.39,-111.69 97.35,-113.04 95.67,-116.53 95.09,-116.36 95.58,-112.51 95.44,-110.82 95.19,-109.48 94.89,-108.32 94.55,-107.28" fill="#fb4a12" stroke="#fb4a12" opacity="0.7" stroke-width="1.2"/>
<polygon points="-22.09,-138.43 -23.16,-138.68 -24.31,-139.03 -25.58,-139.51 -27.1,-140.27 -30.14,-142.69 -30.59,-142.28 -28.47,-139.03 -27.86,-137.44 -27.49,-136.13 -27.26,-134.95 -27.11,-133.87" fill="#fb4a12" stroke="#fb4a12" opacity="0.7" stroke-width="1.2"/>
<polygon points="-136.98,-66.42 -138.05,-66.2 -139.23,-66.02 -140.59,-65.91 -142.29,-65.95 -146.07,-66.84 -146.3,-66.27 -142.99,-64.24 -141.76,-63.07 -140.87,-62.03 -140.16,-61.07 -139.56,-60.16" fill="#fb4a12" stroke="#fb4a12" opacity="0.7" stroke-width="1.2"/>
<polygon points="-138.54,62.93 -139.41,63.59 -140.41,64.25 -141.59,64.93 -143.15,65.62 -146.94,66.41 -146.92,67.02 -143.06,67.46 -141.45,68 -140.2,68.56 -139.15,69.13 -138.22,69.7" fill="#fb4a12" stroke="#fb4a12" opacity="0.7" stroke-width="1.2"/>
<polygon points="-32.97,142.13 -33.47,143.1 -34.09,144.13 -34.87,145.24 -35.99,146.53 -39.08,148.88 -38.79,149.42 -35.12,148.16 -33.43,147.96 -32.07,147.93 -30.87,148 -29.78,148.12" fill="#fb4a12" stroke="#fb4a12" opacity="0.7" stroke-width="1.2"/>
<polygon points="98.71,105.48 98.67,106.57 98.57,107.76 98.35,109.11 97.91,110.75 96.15,114.21 96.64,114.57 99.4,111.84 100.83,110.93 102.05,110.31 103.15,109.84 104.18,109.47" fill="#fb4a12" stroke="#fb4a12" opacity="0.7" stroke-width="1.2"/>
<polygon points="144.79,-12.19 145.64,-11.5 146.52,-10.69 147.45,-9.69 148.49,-8.35 150.17,-4.85 150.76,-5.02 150.26,-8.87 150.41,-10.56 150.65,-11.91 150.95,-13.06 151.29,-14.11" fill="#3e7ac0" stroke="#3e7ac0" opacity="0.7" stroke-width="1.2"/>
<polygon points="-17.99,-149.08 -19.06,-148.86 -20.24,-148.68 -21.6,-148.57 -23.3,-148.61 -27.08,-149.5 -27.31,-148.93 -24.01,-146.9 -22.77,-145.73 -21.88,-144.69 -21.17,-143.73 -20.57,-142.82" fill="#3e7ac0" stroke="#3e7ac0" opacity="0.7" stroke-width="1.2"/>
<polygon points="-137.79,-73.33 -138.66,-72.67 -139.66,-72.01 -140.85,-71.33 -142.4,-70.64 -146.2,-69.85 -146.17,-69.24 -142.32,-68.8 -140.7,-68.26 -139.46,-67.7 -138.4,-67.13 -137.47,-66.56" fill="#3e7ac0" stroke="#3e7ac0" opacity="0.7" stroke-width="1.2"/>
<polygon points="-142.1,57.28 -142.61,58.25 -143.23,59.28 -144.01,60.39 -145.12,61.68 -148.22,64.02 -147.93,64.56 -144.26,63.31 -142.57,63.11 -141.2,63.08 -140.01,63.14 -138.92,63.26" fill="#3e7ac0" stroke="#3e7ac0" opacity="0.7" stroke-width="1.2"/>
<polygon points="-38.74,138.5 -38.77,139.6 -38.88,140.79 -39.1,142.14 -39.54,143.78 -41.3,147.24 -40.81,147.6 -38.05,144.87 -36.62,143.95 -35.4,143.33 -34.3,142.87 -33.27,142.5" fill="#3e7ac0" stroke="#3e7ac0" opacity="0.7" stroke-width="1.2"/>
<polygon points="90.46,104.43 90.91,105.42 91.34,106.54 91.74,107.84 92.08,109.51 92.03,113.39 92.63,113.49 93.9,109.83 94.78,108.37 95.59,107.28 96.37,106.37 97.14,105.59" fill="#3e7ac0" stroke="#3e7ac0" opacity="0.7" stroke-width="1.2"/>
<polygon points="140.29,-7.43 141.35,-7.18 142.5,-6.84 143.77,-6.35 145.3,-5.59 148.33,-3.17 148.78,-3.58 146.66,-6.83 146.05,-8.42 145.69,-9.74 145.45,-10.91 145.3,-11.99" fill="#44b244" stroke="#44b244" opacity="0.7" stroke-width="1.2"/>
<polygon points="76.41,-124.24 77.48,-124.47 78.66,-124.65 80.02,-124.75 81.72,-124.72 85.5,-123.83 85.73,-124.39 82.43,-126.42 81.2,-127.6 80.31,-128.63 79.59,-129.59 78.99,-130.51" fill="#44b244" stroke="#44b244" opacity="0.7" stroke-width="1.2"/>
<polygon points="-141.5,-79.28 -142.01,-78.31 -142.63,-77.29 -143.41,-76.17 -144.52,-74.88 -147.61,-72.54 -147.32,-72 -143.65,-73.25 -141.96,-73.46 -140.6,-73.48 -139.41,-73.42 -138.32,-73.3" fill="#44b244" stroke="#44b244" opacity="0.7" stroke-width="1.2"/>
<polygon points="-147.88,53.65 -147.91,54.74 -148.02,55.94 -148.24,57.28 -148.68,58.93 -150.44,62.38 -149.94,62.74 -147.19,60.01 -145.76,59.1 -144.54,58.48 -143.44,58.01 -142.41,57.65" fill="#44b244" stroke="#44b244" opacity="0.7" stroke-width="1.2"/>
<polygon points="-45.63,137.77 -45.18,138.76 -44.75,139.88 -44.35,141.19 -44.01,142.85 -44.06,146.73 -43.46,146.84 -42.2,143.17 -41.32,141.71 -40.5,140.62 -39.72,139.71 -38.96,138.93" fill="#44b244" stroke="#44b244" opacity="0.7" stroke-width="1.2"/>
<polygon points="82.6,107.14 83.44,107.83 84.33,108.64 85.26,109.63 86.3,110.98 87.98,114.48 88.56,114.3 88.07,110.46 88.21,108.76 88.46,107.42 88.76,106.26 89.1,105.22" fill="#44b244" stroke="#44b244" opacity="0.7" stroke-width="1.2"/>
<polygon points="138.32,-1.33 139.39,-1.55 140.57,-1.73 141.93,-1.84 143.64,-1.8 147.41,-0.91 147.64,-1.48 144.34,-3.51 143.11,-4.68 142.22,-5.72 141.5,-6.68 140.9,-7.59" fill="#9d46a3" stroke="#9d46a3" opacity="0.7" stroke-width="1.2"/>
<polygon points="77.22,-117.33 78.1,-117.99 79.09,-118.66 80.28,-119.33 81.83,-120.02 85.63,-120.82 85.6,-121.43 81.75,-121.86 80.13,-122.4 78.89,-122.96 77.84,-123.53 76.9,-124.1" fill="#9d46a3" stroke="#9d46a3" opacity="0.7" stroke-width="1.2"/>
<polygon points="-63.13,-135.47 -62.62,-136.44 -62,-137.46 -61.22,-138.58 -60.11,-139.87 -57.02,-142.21 -57.3,-142.75 -60.97,-141.5 -62.66,-141.3 -64.03,-141.27 -65.22,-141.33 -66.31,-141.45" fill="#9d46a3" stroke="#9d46a3" opacity="0.7" stroke-width="1.2"/>
<polygon points="-154.77,52.92 -154.32,53.91 -153.89,55.03 -153.49,56.33 -153.15,58 -153.2,61.88 -152.6,61.98 -151.34,58.32 -150.46,56.86 -149.64,55.77 -148.86,54.86 -148.1,54.07" fill="#9d46a3" stroke="#9d46a3" opacity="0.7" stroke-width="1.2"/>
<polygon points="-52.14,140.16 -51.3,140.86 -50.41,141.66 -49.48,142.66 -48.44,144 -46.76,147.5 -46.18,147.33 -46.67,143.48 -46.53,141.79 -46.28,140.45 -45.98,139.29 -45.64,138.25" fill="#9d46a3" stroke="#9d46a3" opacity="0.7" stroke-width="1.2"/>
<polygon points="76.82,112.93 77.89,113.18 79.03,113.53 80.31,114.01 81.83,114.77 84.86,117.19 85.32,116.78 83.2,113.53 82.58,111.94 82.22,110.63 81.99,109.45 81.84,108.37" fill="#9d46a3" stroke="#9d46a3" opacity="0.7" stroke-width="1.2"/>
<polygon points="139.13,4.98 140.01,4.32 141,3.66 142.19,2.99 143.75,2.3 147.54,1.5 147.51,0.89 143.66,0.45 142.05,-0.09 140.8,-0.65 139.75,-1.21 138.81,-1.79" fill="#fc930d" stroke="#fc930d" opacity="0.7" stroke-width="1.2"/>
<polygon points="80.93,-111.38 81.44,-112.35 82.06,-113.38 82.84,-114.49 83.95,-115.78 87.04,-118.12 86.76,-118.66 83.09,-117.41 81.4,-117.21 80.03,-117.18 78.84,-117.24 77.75,-117.36" fill="#fc930d" stroke="#fc930d" opacity="0.7" stroke-width="1.2"/>
<polygon points="-53.59,-128.77 -53.56,-129.86 -53.45,-131.06 -53.23,-132.4 -52.79,-134.05 -51.03,-137.5 -51.52,-137.86 -54.28,-135.13 -55.71,-134.22 -56.93,-133.6 -58.03,-133.13 -59.06,-132.77" fill="#fc930d" stroke="#fc930d" opacity="0.7" stroke-width="1.2"/>
<polygon points="-151.03,-52.15 -151.48,-53.15 -151.91,-54.26 -152.31,-55.57 -152.65,-57.24 -152.6,-61.11 -153.2,-61.22 -154.46,-57.55 -155.34,-56.09 -156.16,-55 -156.94,-54.1 -157.7,-53.31" fill="#fc930d" stroke="#fc930d" opacity="0.7" stroke-width="1.2"/>
<polygon points="-56.86,145.09 -55.79,145.35 -54.65,145.69 -53.37,146.18 -51.85,146.93 -48.82,149.35 -48.36,148.94 -50.48,145.69 -51.09,144.1 -51.46,142.79 -51.69,141.62 -51.84,140.53" fill="#fc930d" stroke="#fc930d" opacity="0.7" stroke-width="1.2"/>
<polygon points="74.17,120.49 75.24,120.27 76.42,120.09 77.78,119.98 79.49,120.02 83.26,120.91 83.49,120.34 80.19,118.31 78.96,117.14 78.07,116.1 77.35,115.14 76.75,114.23" fill="#fc930d" stroke="#fc930d" opacity="0.7" stroke-width="1.2"/>
<polygon points="142.59,10.39 143.1,9.42 143.71,8.4 144.5,7.28 145.61,5.99 148.7,3.65 148.41,3.11 144.74,4.36 143.05,4.56 141.69,4.59 140.49,4.53 139.4,4.41" fill="#fc80b2" stroke="#fc80b2" opacity="0.7" stroke-width="1.2"/>
<polygon points="86.97,-107.53 87.01,-108.63 87.11,-109.82 87.33,-111.17 87.77,-112.81 89.53,-116.27 89.04,-116.63 86.28,-113.9 84.85,-112.98 83.63,-112.36 82.53,-111.9 81.5,-111.53" fill="#fc80b2" stroke="#fc80b2" opacity="0.7" stroke-width="1.2"/>
<polygon points="-41.89,-126.91 -42.34,-127.91 -42.77,-129.02 -43.17,-130.33 -43.51,-132 -43.46,-135.88 -44.06,-135.98 -45.33,-132.31 -46.2,-130.86 -47.02,-129.76 -47.8,-128.86 -48.56,-128.07" fill="#fc80b2" stroke="#fc80b2" opacity="0.7" stroke-width="1.2"/>
<polygon points="-144.18,-54.62 -145.03,-55.32 -145.91,-56.13 -146.84,-57.12 -147.88,-58.47 -149.56,-61.96 -150.15,-61.79 -149.65,-57.94 -149.8,-56.25 -150.04,-54.91 -150.34,-53.75 -150.68,-52.71" fill="#fc80b2" stroke="#fc80b2" opacity="0.7" stroke-width="1.2"/>
<polygon points="-139.8,75.86 -140.87,75.6 -142.01,75.26 -143.29,74.77 -144.81,74.01 -147.85,71.6 -148.3,72.01 -146.18,75.25 -145.57,76.84 -145.2,78.16 -144.97,79.33 -144.82,80.42" fill="#fc80b2" stroke="#fc80b2" opacity="0.7" stroke-width="1.2"/>
<polygon points="74.98,128.4 75.86,127.74 76.85,127.07 78.04,126.4 79.6,125.71 83.39,124.91 83.36,124.3 79.51,123.87 77.9,123.33 76.65,122.77 75.6,122.2 74.67,121.63" fill="#fc80b2" stroke="#fc80b2" opacity="0.7" stroke-width="1.2"/>
<polygon points="94.21,-106.72 93.75,-107.72 93.32,-108.83 92.92,-110.14 92.59,-111.81 92.63,-115.68 92.03,-115.79 90.77,-112.12 89.89,-110.66 89.07,-109.57 88.29,-108.66 87.53,-107.88" fill="#c5a3d2" stroke="#c5a3d2" opacity="0.7" stroke-width="1.2"/>
<polygon points="-29.4,147.78 -30.27,148.44 -31.27,149.11 -32.45,149.78 -34.01,150.47 -37.81,151.27 -37.78,151.88 -33.92,152.31 -32.31,152.85 -31.06,153.41 -30.01,153.98 -29.08,154.55" fill="#c5a3d2" stroke="#c5a3d2" opacity="0.7" stroke-width="1.2"/>
<circle cx="152.9" cy="-0" r="5.5" fill="#fe0d17" stroke="none"/>
<circle cx="92.33" cy="-122.62" r="6.88" fill="#037dbd" stroke="none"/>
<circle cx="-43.76" cy="-152.9" r="16.97" fill="#00ae3d" stroke="none"/>
<circle cx="-152.9" cy="-68.05" r="6.88" fill="#a44f9f" stroke="none"/>
<circle cx="-152.9" cy="68.05" r="6.12" fill="#ff9600" stroke="none"/>
<circle cx="-43.76" cy="152.9" r="6.12" fill="#ff87b4" stroke="none"/>
<circle cx="92.33" cy="122.62" r="9.17" fill="#c59dcb" stroke="none"/>
</g>
<g transform="translate(1138.6 433.35) scale(1 1.2188)" fill="none" stroke-linecap="round" stroke-linejoin="round">
<path d="M158.4 0 C219.56 -30.58 219.56 30.58 158.4 0Z" stroke="#fb4a12" stroke-opacity="0.6" stroke-width="4.44"/>
<path d="M162.07 -1.76 L158.4 0" stroke="#fb4a12" stroke-opacity="0.6" stroke-width="4.44"/>
<polygon points="164.66,-6.76 164.11,-5.81 163.45,-4.81 162.62,-3.73 161.46,-2.49 158.27,-0.28 158.54,0.28 162.26,-0.82 163.95,-0.95 165.32,-0.92 166.51,-0.81 167.59,-0.65" fill="#fb4a12" stroke="#fb4a12" opacity="0.75" stroke-width="3.11"/>
<path d="M96.62 -128 C110.85 -194.88 158.66 -156.75 96.62 -128Z" stroke="#3e7ac0" stroke-opacity="0.6" stroke-width="19.28"/>
<path d="M97.53 -131.96 L96.62 -128" stroke="#3e7ac0" stroke-opacity="0.6" stroke-width="19.28"/>
<polygon points="95.24,-137.1 95.64,-136.08 96.01,-134.94 96.34,-133.62 96.58,-131.93 96.32,-128.06 96.92,-127.93 98.38,-131.52 99.34,-132.93 100.21,-133.98 101.04,-134.84 101.84,-135.58" fill="#3e7ac0" stroke="#3e7ac0" opacity="0.75" stroke-width="13.5"/>
<path d="M-47.54 -169.45 C-90.96 -222.27 -31.33 -235.88 -47.54 -169.45Z" stroke="#44b244" stroke-opacity="0.6" stroke-width="2.32"/>
<path d="M-50.07 -172.63 L-47.54 -169.45" stroke="#44b244" stroke-opacity="0.6" stroke-width="2.32"/>
<polygon points="-55.52,-174.04 -54.47,-173.72 -53.35,-173.3 -52.11,-172.73 -50.64,-171.87 -47.78,-169.26 -47.3,-169.64 -49.2,-173.02 -49.7,-174.64 -49.98,-175.98 -50.13,-177.17 -50.21,-178.26" fill="#44b244" stroke="#44b244" opacity="0.75" stroke-width="1.62"/>
<path d="M-159.1 -71.03 C-227.47 -70.02 -200.93 -125.12 -159.1 -71.03Z" stroke="#9d46a3" stroke-opacity="0.6" stroke-width="12.92"/>
<path d="M-163.17 -71.04 L-159.1 -71.03" stroke="#9d46a3" stroke-opacity="0.6" stroke-width="12.92"/>
<polygon points="-167.67,-67.66 -166.76,-68.27 -165.73,-68.89 -164.52,-69.5 -162.93,-70.12 -159.1,-70.73 -159.1,-71.34 -162.93,-71.96 -164.51,-72.58 -165.73,-73.2 -166.75,-73.82 -167.66,-74.43" fill="#9d46a3" stroke="#9d46a3" opacity="0.75" stroke-width="9.04"/>
<path d="M-158.41 70.7 C-200.25 124.79 -226.78 69.69 -158.41 70.7Z" stroke="#fc930d" stroke-opacity="0.6" stroke-width="10.8"/>
<path d="M-160.95 73.88 L-158.41 70.7" stroke="#fc930d" stroke-opacity="0.6" stroke-width="10.8"/>
<polygon points="-161.11,79.5 -161.03,78.41 -160.87,77.23 -160.59,75.89 -160.08,74.27 -158.17,70.89 -158.65,70.51 -161.52,73.11 -163,73.97 -164.24,74.53 -165.36,74.95 -166.41,75.27" fill="#fc930d" stroke="#fc930d" opacity="0.75" stroke-width="7.56"/>
<path d="M-45.12 158.86 C-28.92 225.29 -88.54 211.68 -45.12 158.86Z" stroke="#fc80b2" stroke-opacity="0.6" stroke-width="12.92"/>
<path d="M-44.22 162.83 L-45.12 158.86" stroke="#fc80b2" stroke-opacity="0.6" stroke-width="12.92"/>
<polygon points="-39.93,166.46 -40.73,165.72 -41.55,164.85 -42.42,163.8 -43.38,162.39 -44.82,158.8 -45.42,158.93 -45.18,162.8 -45.43,164.48 -45.76,165.81 -46.13,166.94 -46.53,167.96" fill="#fc80b2" stroke="#fc80b2" opacity="0.75" stroke-width="9.04"/>
<path d="M98.05 129.79 C160.09 158.54 112.28 196.67 98.05 129.79Z" stroke="#c5a3d2" stroke-opacity="0.6" stroke-width="1.79"/>
<path d="M101.71 131.56 L98.05 129.79" stroke="#c5a3d2" stroke-opacity="0.6" stroke-width="1.79"/>
<polygon points="107.24,130.47 106.15,130.63 104.96,130.74 103.6,130.76 101.9,130.63 98.19,129.51 97.92,130.06 101.1,132.29 102.26,133.53 103.09,134.62 103.74,135.62 104.29,136.57" fill="#c5a3d2" stroke="#c5a3d2" opacity="0.75" stroke-width="1.25"/>
<path d="M150.46 -4.94 L150.29 -5.16 L149.25 -6.56 L146.88 -9.76 L143.24 -14.7 L138.83 -20.76 L134.24 -27.15 L129.94 -33.28 L126.14 -38.87 L122.88 -43.89 L120.1 -48.46 L117.67 -52.78 L115.49 -57.02 L113.45 -61.33 L111.5 -65.88 L109.56 -70.87 L107.55 -76.51 L105.42 -82.92 L103.16 -90.06 L100.87 -97.59 L98.74 -104.78 L97.03 -110.67 L95.93 -114.5 L95.46 -116.18 L95.38 -116.45" stroke="#fb4a12" stroke-opacity="0.6" stroke-width="18.22"/>
<path d="M148.55 -3.38 L148.1 -3.61 L145.28 -5.08 L138.84 -8.44 L128.96 -13.65 L116.91 -20.08 L104.3 -26.92 L92.37 -33.56 L81.71 -39.71 L72.38 -45.35 L64.18 -50.64 L56.78 -55.78 L49.82 -61 L43.05 -66.46 L36.24 -72.37 L29.1 -79.01 L21.33 -86.65 L12.74 -95.48 L3.36 -105.4 L-6.38 -115.93 L-15.58 -126.02 L-23.07 -134.32 L-27.91 -139.73 L-30.02 -142.1 L-30.36 -142.48" stroke="#fb4a12" stroke-opacity="0.6" stroke-width="5.08"/>
<path d="M147.53 -1.2 L146.85 -1.22 L142.63 -1.37 L133 -1.75 L118.18 -2.39 L100.06 -3.27 L81.05 -4.32 L62.96 -5.52 L46.67 -6.84 L32.27 -8.32 L19.43 -10.01 L7.63 -11.98 L-3.69 -14.29 L-14.91 -17 L-26.44 -20.22 L-38.78 -24.13 L-52.45 -28.9 L-67.77 -34.61 L-84.66 -41.2 L-102.32 -48.3 L-119.1 -55.19 L-132.79 -60.9 L-141.67 -64.64 L-145.56 -66.29 L-146.18 -66.55" stroke="#fb4a12" stroke-opacity="0.6" stroke-width="5.5"/>
<path d="M147.53 1.2 L146.9 1.46 L143.01 3.12 L134.1 6.86 L120.37 12.59 L103.55 19.49 L85.84 26.62 L68.91 33.22 L53.55 38.95 L39.85 43.72 L27.48 47.65 L15.92 50.88 L4.67 53.59 L-6.68 55.91 L-18.51 57.88 L-31.38 59.57 L-45.82 61.06 L-62.15 62.38 L-80.29 63.58 L-99.34 64.64 L-117.51 65.52 L-132.37 66.16 L-142.02 66.54 L-146.25 66.69 L-146.93 66.72" stroke="#fb4a12" stroke-opacity="0.6" stroke-width="4.44"/>
<path d="M148.55 3.38 L148.2 3.78 L145.98 6.27 L140.91 11.93 L133.06 20.63 L123.42 31.21 L113.22 42.24 L103.39 52.64 L94.39 61.88 L86.25 69.9 L78.76 76.85 L71.63 83.04 L64.53 88.76 L57.24 94.23 L49.48 99.62 L40.89 105.16 L31.12 111.07 L19.94 117.52 L7.44 124.48 L-5.77 131.65 L-18.4 138.39 L-28.76 143.85 L-35.5 147.37 L-38.46 148.9 L-38.93 149.15" stroke="#fb4a12" stroke-opacity="0.6" stroke-width="7.09"/>
<path d="M150.46 4.94 L150.39 5.2 L149.92 6.85 L148.84 10.61 L147.16 16.39 L145.07 23.44 L142.82 30.83 L140.61 37.85 L138.52 44.14 L136.55 49.67 L134.64 54.57 L132.73 59.03 L130.73 63.27 L128.58 67.43 L126.2 71.66 L123.47 76.15 L120.27 81.08 L116.54 86.56 L112.32 92.59 L107.82 98.86 L103.48 104.81 L99.91 109.66 L97.59 112.8 L96.56 114.17 L96.4 114.39" stroke="#fb4a12" stroke-opacity="0.6" stroke-width="13.98"/>
<path d="M95.38 -116.45 L95.55 -116.22 L96.59 -114.82 L98.97 -111.63 L102.6 -106.69 L107.01 -100.63 L111.6 -94.23 L115.91 -88.1 L119.7 -82.51 L122.96 -77.49 L125.74 -72.92 L128.17 -68.61 L130.36 -64.36 L132.39 -60.05 L134.34 -55.5 L136.28 -50.51 L138.29 -44.88 L140.42 -38.46 L142.68 -31.32 L144.97 -23.79 L147.1 -16.6 L148.81 -10.71 L149.91 -6.88 L150.39 -5.21 L150.46 -4.94" stroke="#3e7ac0" stroke-opacity="0.6" stroke-width="4.44"/>
<path d="M85.62 -124.11 L85.35 -124.12 L83.74 -124.18 L80.04 -124.32 L74.34 -124.57 L67.39 -124.91 L60.08 -125.31 L53.14 -125.77 L46.88 -126.28 L41.35 -126.85 L36.42 -127.5 L31.88 -128.25 L27.54 -129.14 L23.23 -130.18 L18.8 -131.42 L14.06 -132.92 L8.81 -134.75 L2.92 -136.94 L-3.56 -139.48 L-10.35 -142.2 L-16.79 -144.85 L-22.05 -147.04 L-25.46 -148.48 L-26.95 -149.11 L-27.19 -149.21" stroke="#3e7ac0" stroke-opacity="0.6" stroke-width="4.44"/>
<path d="M85.62 -121.12 L85.12 -120.91 L82.06 -119.61 L75.05 -116.66 L64.24 -112.16 L51 -106.72 L37.06 -101.11 L23.73 -95.91 L11.64 -91.4 L0.85 -87.64 L-8.89 -84.55 L-17.98 -82.01 L-26.85 -79.88 L-35.77 -78.05 L-45.09 -76.5 L-55.22 -75.17 L-66.58 -74 L-79.45 -72.95 L-93.72 -72.01 L-108.72 -71.18 L-123.02 -70.49 L-134.72 -69.98 L-142.32 -69.68 L-145.65 -69.56 L-146.18 -69.54" stroke="#3e7ac0" stroke-opacity="0.6" stroke-width="5.5"/>
<path d="M86.9 -118.39 L86.45 -117.89 L83.68 -114.77 L77.32 -107.67 L67.49 -96.78 L55.4 -83.52 L42.61 -69.69 L30.3 -56.66 L19.02 -45.07 L8.81 -35.03 L-0.57 -26.31 L-9.51 -18.55 L-18.41 -11.39 L-27.54 -4.53 L-37.27 2.22 L-48.03 9.17 L-60.28 16.58 L-74.29 24.66 L-89.96 33.38 L-106.51 42.36 L-122.34 50.81 L-135.32 57.65 L-143.77 62.06 L-147.47 63.98 L-148.07 64.29" stroke="#3e7ac0" stroke-opacity="0.6" stroke-width="9.74"/>
<path d="M89.29 -116.45 L89.1 -115.81 L87.98 -111.84 L85.38 -102.78 L81.33 -88.84 L76.29 -71.83 L70.87 -54.02 L65.53 -37.11 L60.49 -21.94 L55.74 -8.6 L51.15 3.2 L46.53 13.96 L41.71 24.17 L36.53 34.21 L30.79 44.42 L24.2 55.23 L16.5 67.11 L7.52 80.34 L-2.67 94.85 L-13.52 109.98 L-23.96 124.32 L-32.57 136.01 L-38.19 143.58 L-40.65 146.88 L-41.05 147.42" stroke="#3e7ac0" stroke-opacity="0.6" stroke-width="8.68"/>
<path d="M92.33 -115.74 L92.43 -115.23 L93.01 -112.07 L94.32 -104.84 L96.3 -93.72 L98.64 -80.1 L101 -65.8 L103.11 -52.15 L104.82 -39.82 L106.1 -28.87 L106.97 -19.04 L107.46 -9.94 L107.61 -1.15 L107.46 7.65 L106.97 16.75 L106.1 26.57 L104.82 37.52 L103.11 49.86 L101 63.5 L98.64 77.81 L96.3 91.42 L94.32 102.55 L93.01 109.77 L92.43 112.93 L92.33 113.44" stroke="#3e7ac0" stroke-opacity="0.6" stroke-width="6.56"/>
<path d="M-30.36 -142.48 L-29.91 -142.25 L-27.09 -140.78 L-20.65 -137.42 L-10.77 -132.21 L1.29 -125.78 L13.89 -118.94 L25.82 -112.3 L36.49 -106.15 L45.81 -100.51 L54.01 -95.22 L61.41 -90.08 L68.37 -84.86 L75.14 -79.4 L81.95 -73.5 L89.1 -66.85 L96.86 -59.21 L105.45 -50.39 L114.83 -40.46 L124.57 -29.93 L133.77 -19.84 L141.26 -11.54 L146.1 -6.14 L148.21 -3.76 L148.55 -3.38" stroke="#44b244" stroke-opacity="0.6" stroke-width="2.96"/>
<path d="M-27.19 -149.21 L-26.93 -149.2 L-25.31 -149.15 L-21.62 -149 L-15.92 -148.75 L-8.96 -148.42 L-1.66 -148.01 L5.29 -147.55 L11.54 -147.04 L17.07 -146.48 L22 -145.83 L26.54 -145.07 L30.88 -144.18 L35.2 -143.14 L39.62 -141.91 L44.36 -140.4 L49.61 -138.57 L55.5 -136.38 L61.98 -133.85 L68.77 -131.12 L75.21 -128.47 L80.47 -126.28 L83.88 -124.85 L85.38 -124.21 L85.62 -124.11" stroke="#44b244" stroke-opacity="0.6" stroke-width="13.98"/>
<path d="M-57.16 -142.48 L-57.33 -142.29 L-58.4 -141.09 L-60.84 -138.36 L-64.62 -134.17 L-69.27 -129.08 L-74.18 -123.77 L-78.91 -118.76 L-83.25 -114.3 L-87.17 -110.44 L-90.78 -107.09 L-94.21 -104.11 L-97.63 -101.36 L-101.15 -98.72 L-104.88 -96.13 L-109.02 -93.46 L-113.73 -90.61 L-119.11 -87.5 L-125.13 -84.15 L-131.49 -80.7 L-137.58 -77.45 L-142.57 -74.82 L-145.81 -73.13 L-147.24 -72.39 L-147.47 -72.27" stroke="#44b244" stroke-opacity="0.6" stroke-width="1.9"/>
<path d="M-51.28 -137.68 L-51.41 -137.2 L-52.27 -134.18 L-54.24 -127.31 L-57.32 -116.73 L-61.14 -103.83 L-65.25 -90.31 L-69.31 -77.47 L-73.13 -65.96 L-76.74 -55.84 L-80.22 -46.88 L-83.72 -38.72 L-87.38 -30.97 L-91.31 -23.35 L-95.67 -15.6 L-100.67 -7.4 L-106.51 1.62 L-113.33 11.66 L-121.06 22.67 L-129.3 34.15 L-137.22 45.04 L-143.75 53.91 L-148.02 59.65 L-149.89 62.16 L-150.19 62.56" stroke="#44b244" stroke-opacity="0.6" stroke-width="2.11"/>
<path d="M-43.76 -135.93 L-43.64 -135.3 L-42.92 -131.4 L-41.31 -122.49 L-38.87 -108.77 L-35.97 -91.97 L-33.06 -74.32 L-30.47 -57.49 L-28.36 -42.27 L-26.77 -28.77 L-25.7 -16.65 L-25.1 -5.42 L-24.91 5.43 L-25.1 16.28 L-25.7 27.51 L-26.77 39.62 L-28.36 53.13 L-30.47 68.35 L-33.06 85.18 L-35.97 102.83 L-38.87 119.62 L-41.31 133.35 L-42.92 142.26 L-43.64 146.16 L-43.76 146.78" stroke="#44b244" stroke-opacity="0.6" stroke-width="3.7"/>
<path d="M-36.24 -137.68 L-35.86 -137.17 L-33.51 -134.02 L-28.14 -126.78 L-19.92 -115.62 L-9.94 -101.92 L0.43 -87.47 L10.15 -73.6 L18.74 -60.96 L26.1 -49.62 L32.39 -39.28 L37.87 -29.54 L42.82 -19.95 L47.43 -10.19 L51.84 0.09 L56.22 11.36 L60.76 24.1 L65.58 38.6 L70.68 54.75 L75.85 71.77 L80.67 88.02 L84.54 101.33 L87.02 109.99 L88.1 113.78 L88.27 114.39" stroke="#44b244" stroke-opacity="0.6" stroke-width="11.86"/>
<path d="M-146.18 -66.55 L-145.5 -66.53 L-141.29 -66.37 L-131.66 -66 L-116.83 -65.36 L-98.72 -64.48 L-79.71 -63.42 L-61.62 -62.23 L-45.33 -60.91 L-30.93 -59.43 L-18.09 -57.74 L-6.29 -55.77 L5.03 -53.45 L16.26 -50.75 L27.78 -47.53 L40.13 -43.62 L53.79 -38.85 L69.11 -33.14 L86 -26.55 L103.66 -19.45 L120.44 -12.56 L134.14 -6.85 L143.02 -3.11 L146.9 -1.46 L147.53 -1.2" stroke="#9d46a3" stroke-opacity="0.6" stroke-width="7.62"/>
<path d="M-146.18 -69.54 L-145.69 -69.75 L-142.62 -71.05 L-135.62 -74 L-124.81 -78.51 L-111.57 -83.95 L-97.62 -89.55 L-84.3 -94.75 L-72.21 -99.26 L-61.42 -103.02 L-51.68 -106.11 L-42.58 -108.65 L-33.72 -110.78 L-24.79 -112.61 L-15.48 -114.16 L-5.34 -115.5 L6.02 -116.67 L18.88 -117.71 L33.15 -118.65 L48.16 -119.49 L62.45 -120.18 L74.15 -120.68 L81.75 -120.98 L85.08 -121.1 L85.62 -121.12" stroke="#9d46a3" stroke-opacity="0.6" stroke-width="21.08"/>
<path d="M-147.47 -72.27 L-147.3 -72.46 L-146.23 -73.66 L-143.79 -76.39 L-140.01 -80.58 L-135.36 -85.67 L-130.45 -90.99 L-125.71 -96 L-121.38 -100.45 L-117.46 -104.31 L-113.85 -107.66 L-110.41 -110.64 L-106.99 -113.4 L-103.48 -116.03 L-99.75 -118.63 L-95.61 -121.3 L-90.9 -124.14 L-85.52 -127.25 L-79.5 -130.6 L-73.13 -134.05 L-67.05 -137.3 L-62.06 -139.93 L-58.81 -141.63 L-57.39 -142.36 L-57.16 -142.48" stroke="#9d46a3" stroke-opacity="0.6" stroke-width="9.74"/>
<path d="M-152.9 -61.17 L-152.85 -60.89 L-152.54 -59.2 L-151.83 -55.32 L-150.77 -49.34 L-149.51 -42.03 L-148.24 -34.34 L-147.11 -27.01 L-146.19 -20.39 L-145.5 -14.51 L-145.04 -9.23 L-144.78 -4.34 L-144.69 0.38 L-144.78 5.11 L-145.04 10 L-145.5 15.27 L-146.19 21.15 L-147.11 27.78 L-148.24 35.11 L-149.51 42.79 L-150.77 50.1 L-151.83 56.08 L-152.54 59.96 L-152.85 61.66 L-152.9 61.93" stroke="#9d46a3" stroke-opacity="0.6" stroke-width="10.8"/>
<path d="M-149.85 -61.88 L-149.54 -61.46 L-147.58 -58.83 L-143.12 -52.83 L-136.3 -43.56 L-128.01 -32.19 L-119.41 -20.18 L-111.33 -8.67 L-104.2 1.82 L-98.09 11.24 L-92.87 19.82 L-88.31 27.91 L-84.21 35.88 L-80.38 43.98 L-76.72 52.51 L-73.08 61.87 L-69.31 72.45 L-65.31 84.49 L-61.08 97.9 L-56.78 112.03 L-52.78 125.52 L-49.57 136.57 L-47.51 143.76 L-46.61 146.91 L-46.47 147.42" stroke="#9d46a3" stroke-opacity="0.6" stroke-width="7.09"/>
<path d="M-147.47 -63.82 L-146.88 -63.52 L-143.21 -61.62 L-134.85 -57.25 L-122 -50.48 L-106.33 -42.12 L-89.95 -33.22 L-74.44 -24.59 L-60.58 -16.6 L-48.46 -9.26 L-37.8 -2.39 L-28.18 4.29 L-19.14 11.08 L-10.33 18.17 L-1.48 25.85 L7.8 34.48 L17.9 44.42 L29.07 55.89 L41.26 68.79 L53.91 82.47 L65.88 95.59 L75.61 106.37 L81.9 113.4 L84.65 116.49 L85.09 116.99" stroke="#9d46a3" stroke-opacity="0.6" stroke-width="11.33"/>
<path d="M-146.93 66.72 L-146.3 66.45 L-142.41 64.8 L-133.51 61.05 L-119.77 55.33 L-102.95 48.42 L-85.25 41.3 L-68.31 34.69 L-52.96 28.97 L-39.26 24.19 L-26.88 20.27 L-15.33 17.04 L-4.07 14.33 L7.27 12.01 L19.11 10.03 L31.98 8.34 L46.41 6.86 L62.75 5.53 L80.88 4.33 L99.94 3.27 L118.1 2.4 L132.97 1.75 L142.62 1.37 L146.84 1.22 L147.53 1.2" stroke="#fc930d" stroke-opacity="0.6" stroke-width="6.03"/>
<path d="M-148.07 64.29 L-147.62 63.79 L-144.85 60.67 L-138.49 53.57 L-128.66 42.68 L-116.57 29.42 L-103.78 15.59 L-91.47 2.56 L-80.19 -9.03 L-69.98 -19.07 L-60.6 -27.79 L-51.66 -35.55 L-42.76 -42.71 L-33.63 -49.57 L-23.9 -56.32 L-13.14 -63.27 L-0.89 -70.68 L13.12 -78.76 L28.79 -87.48 L45.34 -96.46 L61.16 -104.91 L74.15 -111.75 L82.6 -116.16 L86.3 -118.08 L86.9 -118.39" stroke="#fc930d" stroke-opacity="0.6" stroke-width="18.22"/>
<path d="M-150.19 62.56 L-150.05 62.08 L-149.2 59.06 L-147.23 52.19 L-144.15 41.61 L-140.33 28.71 L-136.21 15.19 L-132.16 2.35 L-128.34 -9.16 L-124.73 -19.28 L-121.25 -28.24 L-117.75 -36.4 L-114.08 -44.15 L-110.16 -51.77 L-105.8 -59.52 L-100.8 -67.72 L-94.96 -76.74 L-88.14 -86.78 L-80.41 -97.79 L-72.17 -109.27 L-64.25 -120.16 L-57.72 -129.03 L-53.45 -134.77 L-51.58 -137.28 L-51.28 -137.68" stroke="#fc930d" stroke-opacity="0.6" stroke-width="10.8"/>
<path d="M-152.9 61.93 L-152.95 61.66 L-153.26 59.96 L-153.97 56.08 L-155.03 50.1 L-156.29 42.79 L-157.56 35.11 L-158.69 27.78 L-159.61 21.15 L-160.3 15.27 L-160.76 10 L-161.02 5.11 L-161.11 0.38 L-161.02 -4.34 L-160.76 -9.23 L-160.3 -14.51 L-159.61 -20.39 L-158.69 -27.01 L-157.56 -34.34 L-156.29 -42.03 L-155.03 -49.34 L-153.97 -55.32 L-153.26 -59.2 L-152.95 -60.89 L-152.9 -61.17" stroke="#fc930d" stroke-opacity="0.6" stroke-width="13.45"/>
<path d="M-148.07 71.8 L-147.82 71.93 L-146.25 72.74 L-142.67 74.61 L-137.18 77.51 L-130.47 81.09 L-123.47 84.89 L-116.83 88.58 L-110.9 92 L-105.72 95.14 L-101.16 98.08 L-97.04 100.94 L-93.17 103.84 L-89.41 106.88 L-85.62 110.16 L-81.65 113.85 L-77.33 118.1 L-72.55 123.01 L-67.34 128.53 L-61.93 134.38 L-56.81 139.99 L-52.65 144.61 L-49.95 147.61 L-48.78 148.93 L-48.59 149.15" stroke="#fc930d" stroke-opacity="0.6" stroke-width="12.92"/>
<path d="M-146.93 69.38 L-146.4 69.39 L-143.09 69.51 L-135.54 69.81 L-123.92 70.31 L-109.71 71 L-94.81 71.83 L-80.62 72.77 L-67.84 73.8 L-56.55 74.96 L-46.49 76.29 L-37.23 77.83 L-28.36 79.65 L-19.56 81.76 L-10.52 84.29 L-0.84 87.36 L9.88 91.1 L21.89 95.58 L35.13 100.74 L48.98 106.31 L62.14 111.71 L72.88 116.19 L79.84 119.12 L82.89 120.41 L83.38 120.62" stroke="#fc930d" stroke-opacity="0.6" stroke-width="9.21"/>
<path d="M-38.93 149.15 L-38.58 148.74 L-36.36 146.26 L-31.29 140.59 L-23.44 131.9 L-13.8 121.32 L-3.59 110.29 L6.23 99.89 L15.23 90.64 L23.37 82.63 L30.86 75.67 L38 69.48 L45.09 63.76 L52.38 58.29 L60.14 52.9 L68.73 47.37 L78.5 41.45 L89.68 35.01 L102.18 28.05 L115.39 20.88 L128.02 14.14 L138.38 8.68 L145.12 5.16 L148.08 3.62 L148.55 3.38" stroke="#fc80b2" stroke-opacity="0.6" stroke-width="3.7"/>
<path d="M-41.05 147.42 L-40.87 146.78 L-39.75 142.81 L-37.15 133.75 L-33.1 119.81 L-28.06 102.8 L-22.64 84.99 L-17.3 68.08 L-12.25 52.9 L-7.5 39.57 L-2.92 27.77 L1.7 17.01 L6.53 6.8 L11.7 -3.24 L17.44 -13.45 L24.03 -24.26 L31.73 -36.14 L40.72 -49.37 L50.9 -63.88 L61.75 -79.01 L72.2 -93.35 L80.8 -105.04 L86.42 -112.61 L88.89 -115.91 L89.29 -116.45" stroke="#fc80b2" stroke-opacity="0.6" stroke-width="20.34"/>
<path d="M-43.76 146.78 L-43.88 146.16 L-44.6 142.26 L-46.21 133.35 L-48.65 119.62 L-51.55 102.83 L-54.46 85.18 L-57.05 68.35 L-59.17 53.13 L-60.75 39.62 L-61.82 27.51 L-62.42 16.28 L-62.61 5.43 L-62.42 -5.42 L-61.82 -16.65 L-60.75 -28.77 L-59.17 -42.27 L-57.05 -57.49 L-54.46 -74.32 L-51.55 -91.97 L-48.65 -108.77 L-46.21 -122.49 L-44.6 -131.4 L-43.88 -135.3 L-43.76 -135.93" stroke="#fc80b2" stroke-opacity="0.6" stroke-width="3.7"/>
<path d="M-46.47 147.42 L-46.79 146.99 L-48.74 144.37 L-53.2 138.37 L-60.02 129.1 L-68.31 117.72 L-76.92 105.72 L-84.99 94.21 L-92.12 83.72 L-98.23 74.3 L-103.46 65.72 L-108.01 57.62 L-112.11 49.66 L-115.94 41.56 L-119.6 33.03 L-123.24 23.67 L-127.01 13.09 L-131.01 1.05 L-135.24 -12.36 L-139.54 -26.49 L-143.54 -39.98 L-146.76 -51.03 L-148.82 -58.22 L-149.71 -61.37 L-149.85 -61.88" stroke="#fc80b2" stroke-opacity="0.6" stroke-width="4.76"/>
<path d="M-48.59 149.15 L-48.84 149.02 L-50.41 148.2 L-53.99 146.33 L-59.49 143.44 L-66.19 139.86 L-73.19 136.06 L-79.83 132.36 L-85.76 128.94 L-90.94 125.81 L-95.5 122.87 L-99.62 120.01 L-103.49 117.11 L-107.25 114.07 L-111.04 110.79 L-115.01 107.1 L-119.33 102.84 L-124.11 97.94 L-129.32 92.42 L-134.73 86.57 L-139.85 80.95 L-144.02 76.34 L-146.71 73.33 L-147.88 72.01 L-148.07 71.8" stroke="#fc80b2" stroke-opacity="0.6" stroke-width="6.56"/>
<path d="M-37.79 151.57 L-37.53 151.46 L-35.93 150.78 L-32.27 149.24 L-26.62 146.88 L-19.7 144.04 L-12.41 141.11 L-5.44 138.39 L0.88 136.04 L6.52 134.07 L11.61 132.46 L16.36 131.13 L21 130.01 L25.66 129.06 L30.53 128.25 L35.83 127.55 L41.77 126.94 L48.49 126.39 L55.95 125.9 L63.8 125.46 L71.27 125.1 L77.39 124.84 L81.36 124.68 L83.1 124.62 L83.38 124.61" stroke="#fc80b2" stroke-opacity="0.6" stroke-width="10.8"/>
<path d="M92.33 113.44 L92.24 112.93 L91.65 109.77 L90.34 102.55 L88.37 91.42 L86.02 77.81 L83.66 63.5 L81.56 49.86 L79.84 37.52 L78.56 26.57 L77.69 16.75 L77.21 7.65 L77.05 -1.15 L77.21 -9.94 L77.69 -19.04 L78.56 -28.87 L79.84 -39.82 L81.56 -52.15 L83.66 -65.8 L86.02 -80.1 L88.37 -93.72 L90.34 -104.84 L91.65 -112.07 L92.24 -115.23 L92.33 -115.74" stroke="#c5a3d2" stroke-opacity="0.6" stroke-width="1.79"/>
<path d="M83.38 124.61 L83.12 124.72 L81.52 125.4 L77.85 126.94 L72.2 129.3 L65.28 132.14 L57.99 135.07 L51.03 137.79 L44.71 140.14 L39.07 142.11 L33.98 143.72 L29.22 145.05 L24.59 146.17 L19.92 147.12 L15.05 147.94 L9.76 148.63 L3.82 149.24 L-2.91 149.79 L-10.37 150.28 L-18.21 150.72 L-25.68 151.08 L-31.8 151.34 L-35.77 151.5 L-37.51 151.56 L-37.79 151.57" stroke="#c5a3d2" stroke-opacity="0.6" stroke-width="1.79"/>
<polygon points="101.05,-109.19 100.21,-109.89 99.32,-110.7 98.39,-111.69 97.35,-113.04 95.67,-116.53 95.09,-116.36 95.58,-112.51 95.44,-110.82 95.19,-109.48 94.89,-108.32 94.55,-107.28" fill="#fb4a12" stroke="#fb4a12" opacity="0.7" stroke-width="1.2"/>
<polygon points="-22.09,-138.43 -23.16,-138.68 -24.31,-139.03 -25.58,-139.51 -27.1,-140.27 -30.14,-142.69 -30.59,-142.28 -28.47,-139.03 -27.86,-137.44 -27.49,-136.13 -27.26,-134.95 -27.11,-133.87" fill="#fb4a12" stroke="#fb4a12" opacity="0.7" stroke-width="1.2"/>
<polygon points="-136.98,-66.42 -138.05,-66.2 -139.23,-66.02 -140.59,-65.91 -142.29,-65.95 -146.07,-66.84 -146.3,-66.27 -142.99,-64.24 -141.76,-63.07 -140.87,-62.03 -140.16,-61.07 -139.56,-60.16" fill="#fb4a12" stroke="#fb4a12" opacity="0.7" stroke-width="1.2"/>
<polygon points="-138.54,62.93 -139.41,63.59 -140.41,64.25 -141.59,64.93 -143.15,65.62 -146.94,66.41 -146.92,67.02 -143.06,67.46 -141.45,68 -140.2,68.56 -139.15,69.13 -138.22,69.7" fill="#fb4a12" stroke="#fb4a12" opacity="0.7" stroke-width="1.2"/>
<polygon points="-32.97,142.13 -33.47,143.1 -34.09,144.13 -34.87,145.24 -35.99,146.53 -39.08,148.88 -38.79,149.42 -35.12,148.16 -33.43,147.96 -32.07,147.93 -30.87,148 -29.78,148.12" fill="#fb4a12" stroke="#fb4a12" opacity="0.7" stroke-width="1.2"/>
<polygon points="98.71,105.48 98.67,106.57 98.57,107.76 98.35,109.11 97.91,110.75 96.15,114.21 96.64,114.57 99.4,111.84 100.83,110.93 102.05,110.31 103.15,109.84 104.18,109.47" fill="#fb4a12" stroke="#fb4a12" opacity="0.7" stroke-width="1.2"/>
<polygon points="144.79,-12.19 145.64,-11.5 146.52,-10.69 147.45,-9.69 148.49,-8.35 150.17,-4.85 150.76,-5.02 150.26,-8.87 150.41,-10.56 150.65,-11.91 150.95,-13.06 151.29,-14.11" fill="#3e7ac0" stroke="#3e7ac0" opacity="0.7" stroke-width="1.2"/>
<polygon points="-17.99,-149.08 -19.06,-148.86 -20.24,-148.68 -21.6,-148.57 -23.3,-148.61 -27.08,-149.5 -27.31,-148.93 -24.01,-146.9 -22.77,-145.73 -21.88,-144.69 -21.17,-143.73 -20.57,-142.82" fill="#3e7ac0" stroke="#3e7ac0" opacity="0.7" stroke-width="1.2"/>
<polygon points="-137.79,-73.33 -138.66,-72.67 -139.66,-72.01 -140.85,-71.33 -142.4,-70.64 -146.2,-69.85 -146.17,-69.24 -142.32,-68.8 -140.7,-68.26 -139.46,-67.7 -138.4,-67.13 -137.47,-66.56" fill="#3e7ac0" stroke="#3e7ac0" opacity="0.7" stroke-width="1.2"/>
<polygon points="-142.1,57.28 -142.61,58.25 -143.23,59.28 -144.01,60.39 -145.12,61.68 -148.22,64.02 -147.93,64.56 -144.26,63.31 -142.57,63.11 -141.2,63.08 -140.01,63.14 -138.92,63.26" fill="#3e7ac0" stroke="#3e7ac0" opacity="0.7" stroke-width="1.2"/>
<polygon points="-38.74,138.5 -38.77,139.6 -38.88,140.79 -39.1,142.14 -39.54,143.78 -41.3,147.24 -40.81,147.6 -38.05,144.87 -36.62,143.95 -35.4,143.33 -34.3,142.87 -33.27,142.5" fill="#3e7ac0" stroke="#3e7ac0" opacity="0.7" stroke-width="1.2"/>
<polygon points="90.46,104.43 90.91,105.42 91.34,106.54 91.74,107.84 92.08,109.51 92.03,113.39 92.63,113.49 93.9,109.83 94.78,108.37 95.59,107.28 96.37,106.37 97.14,105.59" fill="#3e7ac0" stroke="#3e7ac0" opacity="0.7" stroke-width="1.2"/>
<polygon points="140.29,-7.43 141.35,-7.18 142.5,-6.84 143.77,-6.35 145.3,-5.59 148.33,-3.17 148.78,-3.58 146.66,-6.83 146.05,-8.42 145.69,-9.74 145.45,-10.91 145.3,-11.99" fill="#44b244" stroke="#44b244" opacity="0.7" stroke-width="1.2"/>
<polygon points="76.41,-124.24 77.48,-124.47 78.66,-124.65 80.02,-124.75 81.72,-124.72 85.5,-123.83 85.73,-124.39 82.43,-126.42 81.2,-127.6 80.31,-128.63 79.59,-129.59 78.99,-130.51" fill="#44b244" stroke="#44b244" opacity="0.7" stroke-width="1.2"/>
<polygon points="-141.5,-79.28 -142.01,-78.31 -142.63,-77.29 -143.41,-76.17 -144.52,-74.88 -147.61,-72.54 -147.32,-72 -143.65,-73.25 -141.96,-73.46 -140.6,-73.48 -139.41,-73.42 -138.32,-73.3" fill="#44b244" stroke="#44b244" opacity="0.7" stroke-width="1.2"/>
<polygon points="-147.88,53.65 -147.91,54.74 -148.02,55.94 -148.24,57.28 -148.68,58.93 -150.44,62.38 -149.94,62.74 -147.19,60.01 -145.76,59.1 -144.54,58.48 -143.44,58.01 -142.41,57.65" fill="#44b244" stroke="#44b244" opacity="0.7" stroke-width="1.2"/>
<polygon points="-45.63,137.77 -45.18,138.76 -44.75,139.88 -44.35,141.19 -44.01,142.85 -44.06,146.73 -43.46,146.84 -42.2,143.17 -41.32,141.71 -40.5,140.62 -39.72,139.71 -38.96,138.93" fill="#44b244" stroke="#44b244" opacity="0.7" stroke-width="1.2"/>
<polygon points="82.6,107.14 83.44,107.83 84.33,108.64 85.26,109.63 86.3,110.98 87.98,114.48 88.56,114.3 88.07,110.46 88.21,108.76 88.46,107.42 88.76,106.26 89.1,105.22" fill="#44b244" stroke="#44b244" opacity="0.7" stroke-width="1.2"/>
<polygon points="138.32,-1.33 139.39,-1.55 140.57,-1.73 141.93,-1.84 143.64,-1.8 147.41,-0.91 147.64,-1.48 144.34,-3.51 143.11,-4.68 142.22,-5.72 141.5,-6.68 140.9,-7.59" fill="#9d46a3" stroke="#9d46a3" opacity="0.7" stroke-width="1.2"/>
<polygon points="77.22,-117.33 78.1,-117.99 79.09,-118.66 80.28,-119.33 81.83,-120.02 85.63,-120.82 85.6,-121.43 81.75,-121.86 80.13,-122.4 78.89,-122.96 77.84,-123.53 76.9,-124.1" fill="#9d46a3" stroke="#9d46a3" opacity="0.7" stroke-width="1.2"/>
<polygon points="-63.13,-135.47 -62.62,-136.44 -62,-137.46 -61.22,-138.58 -60.11,-139.87 -57.02,-142.21 -57.3,-142.75 -60.97,-141.5 -62.66,-141.3 -64.03,-141.27 -65.22,-141.33 -66.31,-141.45" fill="#9d46a3" stroke="#9d46a3" opacity="0.7" stroke-width="1.2"/>
<polygon points="-154.77,52.92 -154.32,53.91 -153.89,55.03 -153.49,56.33 -153.15,58 -153.2,61.88 -152.6,61.98 -151.34,58.32 -150.46,56.86 -149.64,55.77 -148.86,54.86 -148.1,54.07" fill="#9d46a3" stroke="#9d46a3" opacity="0.7" stroke-width="1.2"/>
<polygon points="-52.14,140.16 -51.3,140.86 -50.41,141.66 -49.48,142.66 -48.44,144 -46.76,147.5 -46.18,147.33 -46.67,143.48 -46.53,141.79 -46.28,140.45 -45.98,139.29 -45.64,138.25" fill="#9d46a3" stroke="#9d46a3" opacity="0.7" stroke-width="1.2"/>
<polygon points="76.82,112.93 77.89,113.18 79.03,113.53 80.31,114.01 81.83,114.77 84.86,117.19 85.32,116.78 83.2,113.53 82.58,111.94 82.22,110.63 81.99,109.45 81.84,108.37" fill="#9d46a3" stroke="#9d46a3" opacity="0.7" stroke-width="1.2"/>
<polygon points="139.13,4.98 140.01,4.32 141,3.66 142.19,2.99 143.75,2.3 147.54,1.5 147.51,0.89 143.66,0.45 142.05,-0.09 140.8,-0.65 139.75,-1.21 138.81,-1.79" fill="#fc930d" stroke="#fc930d" opacity="0.7" stroke-width="1.2"/>
<polygon points="80.93,-111.38 81.44,-112.35 82.06,-113.38 82.84,-114.49 83.95,-115.78 87.04,-118.12 86.76,-118.66 83.09,-117.41 81.4,-117.21 80.03,-117.18 78.84,-117.24 77.75,-117.36" fill="#fc930d" stroke="#fc930d" opacity="0.7" stroke-width="1.2"/>
<polygon points="-53.59,-128.77 -53.56,-129.86 -53.45,-131.06 -53.23,-132.4 -52.79,-134.05 -51.03,-137.5 -51.52,-137.86 -54.28,-135.13 -55.71,-134.22 -56.93,-133.6 -58.03,-133.13 -59.06,-132.77" fill="#fc930d" stroke="#fc930d" opacity="0.7" stroke-width="1.2"/>
<polygon points="-151.03,-52.15 -151.48,-53.15 -151.91,-54.26 -152.31,-55.57 -152.65,-57.24 -152.6,-61.11 -153.2,-61.22 -154.46,-57.55 -155.34,-56.09 -156.16,-55 -156.94,-54.1 -157.7,-53.31" fill="#fc930d" stroke="#fc930d" opacity="0.7" stroke-width="1.2"/>
<polygon points="-56.86,145.09 -55.79,145.35 -54.65,145.69 -53.37,146.18 -51.85,146.93 -48.82,149.35 -48.36,148.94 -50.48,145.69 -51.09,144.1 -51.46,142.79 -51.69,141.62 -51.84,140.53" fill="#fc930d" stroke="#fc930d" opacity="0.7" stroke-width="1.2"/>
<polygon points="74.17,120.49 75.24,120.27 76.42,120.09 77.78,119.98 79.49,120.02 83.26,120.91 83.49,120.34 80.19,118.31 78.96,117.14 78.07,116.1 77.35,115.14 76.75,114.23" fill="#fc930d" stroke="#fc930d" opacity="0.7" stroke-width="1.2"/>
<polygon points="142.59,10.39 143.1,9.42 143.71,8.4 144.5,7.28 145.61,5.99 148.7,3.65 148.41,3.11 144.74,4.36 143.05,4.56 141.69,4.59 140.49,4.53 139.4,4.41" fill="#fc80b2" stroke="#fc80b2" opacity="0.7" stroke-width="1.2"/>
<polygon points="86.97,-107.53 87.01,-108.63 87.11,-109.82 87.33,-111.17 87.77,-112.81 89.53,-116.27 89.04,-116.63 86.28,-113.9 84.85,-112.98 83.63,-112.36 82.53,-111.9 81.5,-111.53" fill="#fc80b2" stroke="#fc80b2" opacity="0.7" stroke-width="1.2"/>
<polygon points="-41.89,-126.91 -42.34,-127.91 -42.77,-129.02 -43.17,-130.33 -43.51,-132 -43.46,-135.88 -44.06,-135.98 -45.33,-132.31 -46.2,-130.86 -47.02,-129.76 -47.8,-128.86 -48.56,-128.07" fill="#fc80b2" stroke="#fc80b2" opacity="0.7" stroke-width="1.2"/>
<polygon points="-144.18,-54.62 -145.03,-55.32 -145.91,-56.13 -146.84,-57.12 -147.88,-58.47 -149.56,-61.96 -150.15,-61.79 -149.65,-57.94 -149.8,-56.25 -150.04,-54.91 -150.34,-53.75 -150.68,-52.71" fill="#fc80b2" stroke="#fc80b2" opacity="0.7" stroke-width="1.2"/>
<polygon points="-139.8,75.86 -140.87,75.6 -142.01,75.26 -143.29,74.77 -144.81,74.01 -147.85,71.6 -148.3,72.01 -146.18,75.25 -145.57,76.84 -145.2,78.16 -144.97,79.33 -144.82,80.42" fill="#fc80b2" stroke="#fc80b2" opacity="0.7" stroke-width="1.2"/>
<polygon points="74.98,128.4 75.86,127.74 76.85,127.07 78.04,126.4 79.6,125.71 83.39,124.91 83.36,124.3 79.51,123.87 77.9,123.33 76.65,122.77 75.6,122.2 74.67,121.63" fill="#fc80b2" stroke="#fc80b2" opacity="0.7" stroke-width="1.2"/>
<polygon points="94.21,-106.72 93.75,-107.72 93.32,-108.83 92.92,-110.14 92.59,-111.81 92.63,-115.68 92.03,-115.79 90.77,-112.12 89.89,-110.66 89.07,-109.57 88.29,-108.66 87.53,-107.88" fill="#c5a3d2" stroke="#c5a3d2" opacity="0.7" stroke-width="1.2"/>
<polygon points="-29.4,147.78 -30.27,148.44 -31.27,149.11 -32.45,149.78 -34.01,150.47 -37.81,151.27 -37.78,151.88 -33.92,152.31 -32.31,152.85 -31.06,153.41 -30.01,153.98 -29.08,154.55" fill="#c5a3d2" stroke="#c5a3d2" opacity="0.7" stroke-width="1.2"/>
<circle cx="152.9" cy="-0" r="5.5" fill="#fe0d17" stroke="none"/>
<circle cx="92.33" cy="-122.62" r="6.88" fill="#037dbd" stroke="none"/>
<circle cx="-43.76" cy="-152.9" r="16.97" fill="#00ae3d" stroke="none"/>
<circle cx="-152.9" cy="-68.05" r="6.88" fill="#a44f9f" stroke="none"/>
<circle cx="-152.9" cy="68.05" r="6.12" fill="#ff9600" stroke="none"/>
<circle cx="-43.76" cy="152.9" r="6.12" fill="#ff87b4" stroke="none"/>
<circle cx="92.33" cy="122.62" r="9.17" fill="#c59dcb" stroke="none"/>
</g>
<text transform="translate(213.76 172.8) scale(0.8113 1)" font-size="51.35" stroke="#000" stroke-width="1.1">Number of interactions</text>
<text transform="translate(883.37 167.7) scale(0.8087 1)" font-size="51.49" stroke="#000" stroke-width="1.1">Interaction weights/strength</text>
<text transform="translate(244.87 223) scale(0.8425 1)" font-size="45.95" stroke="#000" stroke-width="1.1">Epithelial_cell</text>
<text transform="translate(413.68 270.5) scale(0.8415 1)" font-size="45.95" stroke="#000" stroke-width="1.1">Dendritic_cell</text>
<text transform="translate(159.41 367) scale(0.8317 1)" font-size="45.95" stroke="#000" stroke-width="1.1">Fibroblast</text>
<text transform="translate(549.39 447.3) scale(0.8351 1)" font-size="45.95" stroke="#000" stroke-width="1.1">B_cell</text>
<text transform="translate(99.7 555.6) scale(0.8346 1)" font-size="45.95" stroke="#000" stroke-width="1.1">Mesenchymal_cell</text>
<text transform="translate(491.88 596.3) scale(0.8351 1)" font-size="45.95" stroke="#000" stroke-width="1.1">T_cell</text>
<text transform="translate(154.79 658.2) scale(0.8381 1)" font-size="45.95" stroke="#000" stroke-width="1.1">Plasmacytoid_dendritic_cell</text>
<text transform="translate(959.87 223) scale(0.8425 1)" font-size="45.95" stroke="#000" stroke-width="1.1">Epithelial_cell</text>
<text transform="translate(1128.68 270.5) scale(0.8415 1)" font-size="45.95" stroke="#000" stroke-width="1.1">Dendritic_cell</text>
<text transform="translate(874.41 367) scale(0.8317 1)" font-size="45.95" stroke="#000" stroke-width="1.1">Fibroblast</text>
<text transform="translate(1264.39 447.3) scale(0.8351 1)" font-size="45.95" stroke="#000" stroke-width="1.1">B_cell</text>
<text transform="translate(814.7 555.6) scale(0.8346 1)" font-size="45.95" stroke="#000" stroke-width="1.1">Mesenchymal_cell</text>
<text transform="translate(1206.88 596.3) scale(0.8351 1)" font-size="45.95" stroke="#000" stroke-width="1.1">T_cell</text>
<text transform="translate(869.79 658.2) scale(0.8381 1)" font-size="45.95" stroke="#000" stroke-width="1.1">Plasmacytoid_dendritic_cell</text>
<clipPath id="clC1"><rect x="0" y="1100" width="740.5" height="766"/></clipPath>
<clipPath id="clC2"><rect x="760" y="1100" width="688.2" height="766"/></clipPath>
<g transform="translate(414.9 1530.3) scale(1 1.3830)" fill="none" stroke-linecap="round" stroke-linejoin="round">
<path d="M166.39 0 C227.45 -30.53 227.45 30.53 166.39 0Z" stroke="#fb4a12" stroke-opacity="0.6" stroke-width="8.5"/>
<path d="M170.06 -1.76 L166.39 0" stroke="#fb4a12" stroke-opacity="0.6" stroke-width="8.5"/>
<polygon points="172.9,-7.03 172.33,-6.04 171.64,-5 170.78,-3.88 169.57,-2.59 166.26,-0.29 166.53,0.29 170.4,-0.86 172.16,-0.99 173.58,-0.96 174.82,-0.84 175.95,-0.67" fill="#fb4a12" stroke="#fb4a12" opacity="0.75" stroke-width="5.95"/>
<path d="M0 -171.72 C-30.53 -232.78 30.53 -232.78 0 -171.72Z" stroke="#3e7ac0" stroke-opacity="0.6" stroke-width="14"/>
<path d="M-1.76 -175.38 L0 -171.72" stroke="#3e7ac0" stroke-opacity="0.6" stroke-width="14"/>
<polygon points="-7.03,-178.22 -6.04,-177.65 -5,-176.97 -3.88,-176.11 -2.59,-174.9 -0.29,-171.58 0.29,-171.86 -0.86,-175.73 -0.99,-177.49 -0.96,-178.91 -0.84,-180.15 -0.67,-181.27" fill="#3e7ac0" stroke="#3e7ac0" opacity="0.75" stroke-width="9.8"/>
<path d="M-164.72 -0 C-225.78 30.53 -225.78 -30.53 -164.72 -0Z" stroke="#44b244" stroke-opacity="0.6" stroke-width="17.5"/>
<path d="M-168.39 1.76 L-164.72 -0" stroke="#44b244" stroke-opacity="0.6" stroke-width="17.5"/>
<polygon points="-171.23,7.03 -170.66,6.04 -169.97,5 -169.11,3.88 -167.9,2.59 -164.59,0.29 -164.86,-0.29 -168.73,0.86 -170.49,0.99 -171.91,0.96 -173.15,0.84 -174.28,0.67" fill="#44b244" stroke="#44b244" opacity="0.75" stroke-width="12.25"/>
<path d="M-0 175.69 C30.53 236.75 -30.53 236.75 -0 175.69Z" stroke="#9d46a3" stroke-opacity="0.6" stroke-width="8"/>
<path d="M1.76 179.36 L-0 175.69" stroke="#9d46a3" stroke-opacity="0.6" stroke-width="8"/>
<polygon points="7.03,182.2 6.04,181.63 5,180.94 3.88,180.08 2.59,178.87 0.29,175.56 -0.29,175.83 0.86,179.7 0.99,181.46 0.96,182.88 0.84,184.12 0.67,185.25" fill="#9d46a3" stroke="#9d46a3" opacity="0.75" stroke-width="5.6"/>
<path d="M153.77 -5.23 L153.39 -5.49 L151.03 -7.12 L145.64 -10.85 L137.36 -16.63 L127.28 -23.75 L116.75 -31.3 L106.8 -38.59 L97.92 -45.3 L90.2 -51.41 L83.44 -57.06 L77.38 -62.51 L71.73 -67.96 L66.27 -73.62 L60.83 -79.68 L55.17 -86.43 L49.07 -94.16 L42.36 -103.03 L35.06 -112.98 L27.52 -123.51 L20.4 -133.59 L14.62 -141.87 L10.88 -147.26 L9.26 -149.62 L8.99 -150.01" stroke="#fb4a12" stroke-opacity="0.6" stroke-width="6"/>
<path d="M151.61 -0 L150.93 0.13 L146.72 0.9 L137.12 2.65 L122.31 5.28 L104.2 8.4 L85.17 11.54 L67.02 14.34 L50.61 16.61 L36.04 18.32 L22.97 19.47 L10.86 20.12 L-0.83 20.33 L-12.53 20.12 L-24.64 19.47 L-37.71 18.32 L-52.28 16.61 L-68.69 14.34 L-86.84 11.54 L-105.87 8.4 L-123.98 5.28 L-138.79 2.65 L-148.39 0.9 L-152.6 0.13 L-153.28 -0" stroke="#fb4a12" stroke-opacity="0.6" stroke-width="7.5"/>
<path d="M153.77 5.23 L153.52 5.6 L151.92 7.92 L148.26 13.21 L142.59 21.32 L135.61 31.21 L128.21 41.54 L121.06 51.29 L114.48 59.99 L108.49 67.57 L102.94 74.19 L97.61 80.13 L92.25 85.68 L86.71 91.03 L80.77 96.37 L74.15 101.91 L66.57 107.9 L57.87 114.48 L48.11 121.63 L37.79 129.03 L27.9 136.01 L19.78 141.68 L14.5 145.34 L12.18 146.94 L11.81 147.19" stroke="#fb4a12" stroke-opacity="0.6" stroke-width="9"/>
<path d="M8.99 -150.01 L9.38 -149.74 L11.74 -148.12 L17.13 -144.38 L25.41 -138.6 L35.49 -131.48 L46.02 -123.94 L55.97 -116.64 L64.84 -109.93 L72.57 -103.83 L79.32 -98.17 L85.38 -92.73 L91.04 -87.27 L96.49 -81.62 L101.94 -75.56 L107.59 -68.8 L113.7 -61.08 L120.41 -52.2 L127.7 -42.25 L135.25 -31.72 L142.37 -21.64 L148.15 -13.36 L151.88 -7.97 L153.51 -5.61 L153.77 -5.23" stroke="#3e7ac0" stroke-opacity="0.6" stroke-width="21"/>
<path d="M-8.99 -150.01 L-9.26 -149.62 L-10.9 -147.24 L-14.66 -141.8 L-20.49 -133.46 L-27.67 -123.29 L-35.28 -112.68 L-42.63 -102.65 L-49.39 -93.7 L-55.55 -85.91 L-61.25 -79.1 L-66.74 -72.99 L-72.24 -67.3 L-77.94 -61.79 L-84.05 -56.31 L-90.86 -50.6 L-98.65 -44.45 L-107.59 -37.68 L-117.62 -30.33 L-128.24 -22.72 L-138.4 -15.54 L-146.75 -9.72 L-152.18 -5.95 L-154.57 -4.31 L-154.95 -4.05" stroke="#3e7ac0" stroke-opacity="0.6" stroke-width="21"/>
<path d="M-0 -146.28 L0.12 -145.64 L0.85 -141.66 L2.5 -132.57 L4.99 -118.55 L7.95 -101.41 L10.92 -83.4 L13.57 -66.21 L15.72 -50.68 L17.34 -36.89 L18.43 -24.52 L19.05 -13.06 L19.24 -1.99 L19.05 9.09 L18.43 20.55 L17.34 32.92 L15.72 46.71 L13.57 62.24 L10.92 79.42 L7.95 97.44 L4.99 114.58 L2.5 128.59 L0.85 137.68 L0.12 141.66 L-0 142.31" stroke="#3e7ac0" stroke-opacity="0.6" stroke-width="18"/>
<path d="M-153.28 -0 L-152.6 -0.13 L-148.39 -0.9 L-138.79 -2.65 L-123.98 -5.28 L-105.87 -8.4 L-86.84 -11.54 L-68.69 -14.34 L-52.28 -16.61 L-37.71 -18.32 L-24.64 -19.47 L-12.53 -20.12 L-0.83 -20.33 L10.86 -20.12 L22.97 -19.47 L36.04 -18.32 L50.61 -16.61 L67.02 -14.34 L85.17 -11.54 L104.2 -8.4 L122.31 -5.28 L137.12 -2.65 L146.72 -0.9 L150.93 -0.13 L151.61 -0" stroke="#44b244" stroke-opacity="0.6" stroke-width="13"/>
<path d="M-154.95 -4.05 L-154.69 -4.43 L-153.05 -6.82 L-149.28 -12.25 L-143.46 -20.6 L-136.28 -30.76 L-128.67 -41.38 L-121.32 -51.41 L-114.55 -60.35 L-108.4 -68.14 L-102.69 -74.95 L-97.21 -81.06 L-91.7 -86.76 L-86.01 -92.26 L-79.9 -97.75 L-73.09 -103.45 L-65.3 -109.61 L-56.35 -116.37 L-46.32 -123.72 L-35.71 -131.33 L-25.54 -138.51 L-17.2 -144.34 L-11.76 -148.1 L-9.38 -149.74 L-8.99 -150.01" stroke="#44b244" stroke-opacity="0.6" stroke-width="9"/>
<path d="M-154.95 4.05 L-154.57 4.31 L-152.24 5.92 L-146.91 9.61 L-138.72 15.32 L-128.75 22.36 L-118.34 29.82 L-108.51 37.03 L-99.73 43.67 L-92.09 49.71 L-85.41 55.3 L-79.42 60.68 L-73.84 66.08 L-68.44 71.67 L-63.06 77.66 L-57.46 84.34 L-51.43 91.97 L-44.79 100.75 L-37.58 110.59 L-30.12 121 L-23.08 130.96 L-17.37 139.15 L-13.67 144.48 L-12.06 146.82 L-11.81 147.19" stroke="#44b244" stroke-opacity="0.6" stroke-width="19"/>
<path d="M11.81 147.19 L12.06 146.82 L13.66 144.5 L17.32 139.22 L22.99 131.1 L29.97 121.21 L37.37 110.89 L44.52 101.13 L51.1 92.43 L57.09 84.85 L62.63 78.23 L67.97 72.29 L73.32 66.75 L78.87 61.39 L84.81 56.06 L91.43 50.51 L99.01 44.52 L107.71 37.94 L117.46 30.79 L127.79 23.39 L137.68 16.41 L145.79 10.74 L151.08 7.08 L153.4 5.48 L153.77 5.23" stroke="#9d46a3" stroke-opacity="0.6" stroke-width="9"/>
<path d="M-0 142.31 L-0.12 141.66 L-0.85 137.68 L-2.5 128.59 L-4.99 114.58 L-7.95 97.44 L-10.92 79.42 L-13.57 62.24 L-15.72 46.71 L-17.34 32.92 L-18.43 20.55 L-19.05 9.09 L-19.24 -1.99 L-19.05 -13.06 L-18.43 -24.52 L-17.34 -36.89 L-15.72 -50.68 L-13.57 -66.21 L-10.92 -83.4 L-7.95 -101.41 L-4.99 -118.55 L-2.5 -132.57 L-0.85 -141.66 L-0.12 -145.64 L-0 -146.28" stroke="#9d46a3" stroke-opacity="0.6" stroke-width="4"/>
<path d="M-11.81 147.19 L-12.18 146.94 L-14.52 145.33 L-19.85 141.63 L-28.04 135.92 L-38 128.88 L-48.41 121.42 L-58.25 114.21 L-67.03 107.57 L-74.66 101.54 L-81.34 95.94 L-87.33 90.56 L-92.92 85.16 L-98.32 79.58 L-103.7 73.59 L-109.29 66.91 L-115.33 59.27 L-121.97 50.49 L-129.18 40.66 L-136.64 30.25 L-143.68 20.28 L-149.39 12.09 L-153.08 6.76 L-154.69 4.43 L-154.95 4.05" stroke="#9d46a3" stroke-opacity="0.6" stroke-width="9"/>
<polygon points="17,-144.75 15.94,-145.15 14.8,-145.66 13.54,-146.32 12.07,-147.3 9.25,-150.19 8.73,-149.82 10.5,-146.2 10.93,-144.48 11.13,-143.08 11.22,-141.83 11.24,-140.7" fill="#fb4a12" stroke="#fb4a12" opacity="0.7" stroke-width="1.2"/>
<polygon points="-143.9,-1.95 -144.94,-1.48 -146.1,-1.03 -147.45,-0.61 -149.19,-0.26 -153.22,-0.31 -153.33,0.31 -149.52,1.63 -148,2.54 -146.86,3.39 -145.92,4.2 -145.11,4.99" fill="#fb4a12" stroke="#fb4a12" opacity="0.7" stroke-width="1.2"/>
<polygon points="17.06,139.19 16.66,140.25 16.15,141.39 15.49,142.64 14.51,144.12 11.62,146.93 11.99,147.45 15.61,145.69 17.33,145.26 18.73,145.06 19.98,144.97 21.11,144.95" fill="#fb4a12" stroke="#fb4a12" opacity="0.7" stroke-width="1.2"/>
<polygon points="145.76,-10.48 146.83,-10.08 147.97,-9.58 149.22,-8.91 150.7,-7.93 153.51,-5.04 154.03,-5.41 152.26,-9.04 151.84,-10.75 151.63,-12.16 151.54,-13.4 151.53,-14.54" fill="#3e7ac0" stroke="#3e7ac0" opacity="0.7" stroke-width="1.2"/>
<polygon points="-149.7,-12.05 -150.1,-10.99 -150.6,-9.85 -151.27,-8.6 -152.25,-7.12 -155.14,-4.31 -154.77,-3.79 -151.14,-5.56 -149.43,-5.98 -148.02,-6.19 -146.78,-6.28 -145.64,-6.29" fill="#3e7ac0" stroke="#3e7ac0" opacity="0.7" stroke-width="1.2"/>
<polygon points="-1.95,132.93 -1.48,133.97 -1.03,135.13 -0.61,136.48 -0.26,138.22 -0.31,142.25 0.31,142.36 1.63,138.55 2.54,137.03 3.39,135.89 4.2,134.95 4.99,134.14" fill="#3e7ac0" stroke="#3e7ac0" opacity="0.7" stroke-width="1.2"/>
<polygon points="142.23,1.95 143.27,1.48 144.43,1.03 145.78,0.61 147.52,0.26 151.55,0.31 151.66,-0.31 147.85,-1.63 146.33,-2.54 145.19,-3.39 144.25,-4.2 143.44,-4.99" fill="#44b244" stroke="#44b244" opacity="0.7" stroke-width="1.2"/>
<polygon points="-14.25,-142 -13.85,-143.06 -13.34,-144.2 -12.68,-145.46 -11.7,-146.93 -8.81,-149.75 -9.18,-150.27 -12.8,-148.5 -14.52,-148.07 -15.92,-147.87 -17.17,-147.78 -18.3,-147.76" fill="#44b244" stroke="#44b244" opacity="0.7" stroke-width="1.2"/>
<polygon points="-19.81,141.94 -18.75,142.34 -17.61,142.85 -16.36,143.51 -14.88,144.49 -12.07,147.38 -11.55,147.01 -13.31,143.39 -13.74,141.67 -13.94,140.27 -14.03,139.02 -14.05,137.89" fill="#44b244" stroke="#44b244" opacity="0.7" stroke-width="1.2"/>
<polygon points="148.52,13.24 148.92,12.17 149.42,11.03 150.09,9.78 151.07,8.3 153.96,5.49 153.59,4.97 149.96,6.74 148.25,7.16 146.84,7.37 145.6,7.46 144.46,7.47" fill="#9d46a3" stroke="#9d46a3" opacity="0.7" stroke-width="1.2"/>
<polygon points="1.95,-136.9 1.48,-137.94 1.03,-139.1 0.61,-140.46 0.26,-142.19 0.31,-146.23 -0.31,-146.33 -1.63,-142.52 -2.54,-141.01 -3.39,-139.87 -4.2,-138.93 -4.99,-138.11" fill="#9d46a3" stroke="#9d46a3" opacity="0.7" stroke-width="1.2"/>
<polygon points="-146.95,9.3 -148.01,8.9 -149.15,8.4 -150.4,7.73 -151.88,6.75 -154.69,3.86 -155.21,4.23 -153.44,7.86 -153.02,9.57 -152.81,10.98 -152.72,12.22 -152.71,13.36" fill="#9d46a3" stroke="#9d46a3" opacity="0.7" stroke-width="1.2"/>
<circle cx="159" cy="-0" r="7.39" fill="#fe0d17" stroke="none"/>
<circle cx="0" cy="-159" r="12.72" fill="#037dbd" stroke="none"/>
<circle cx="-159" cy="-0" r="5.72" fill="#00ae3d" stroke="none"/>
<circle cx="-0" cy="159" r="16.7" fill="#a44f9f" stroke="none"/>
</g>
<g transform="translate(1122.6 1530.3) scale(1 1.3830)" fill="none" stroke-linecap="round" stroke-linejoin="round">
<path d="M166.39 0 C227.45 -30.53 227.45 30.53 166.39 0Z" stroke="#fb4a12" stroke-opacity="0.6" stroke-width="1.6"/>
<path d="M170.06 -1.76 L166.39 0" stroke="#fb4a12" stroke-opacity="0.6" stroke-width="1.6"/>
<polygon points="172.78,-6.91 172.22,-5.94 171.55,-4.92 170.7,-3.81 169.51,-2.55 166.26,-0.29 166.53,0.29 170.33,-0.84 172.06,-0.97 173.46,-0.94 174.67,-0.82 175.78,-0.66" fill="#fb4a12" stroke="#fb4a12" opacity="0.75" stroke-width="1.12"/>
<path d="M0 -171.72 C-30.53 -232.78 30.53 -232.78 0 -171.72Z" stroke="#3e7ac0" stroke-opacity="0.6" stroke-width="4"/>
<path d="M-1.76 -175.38 L0 -171.72" stroke="#3e7ac0" stroke-opacity="0.6" stroke-width="4"/>
<polygon points="-6.91,-178.11 -5.94,-177.55 -4.92,-176.87 -3.81,-176.02 -2.55,-174.84 -0.29,-171.58 0.29,-171.86 -0.84,-175.66 -0.97,-177.39 -0.94,-178.78 -0.82,-180 -0.66,-181.1" fill="#3e7ac0" stroke="#3e7ac0" opacity="0.75" stroke-width="2.8"/>
<path d="M-164.72 -0 C-225.78 30.53 -225.78 -30.53 -164.72 -0Z" stroke="#44b244" stroke-opacity="0.6" stroke-width="3.8"/>
<path d="M-168.39 1.76 L-164.72 -0" stroke="#44b244" stroke-opacity="0.6" stroke-width="3.8"/>
<polygon points="-171.11,6.91 -170.55,5.94 -169.88,4.92 -169.03,3.81 -167.84,2.55 -164.59,0.29 -164.86,-0.29 -168.66,0.84 -170.39,0.97 -171.79,0.94 -173,0.82 -174.11,0.66" fill="#44b244" stroke="#44b244" opacity="0.75" stroke-width="2.66"/>
<path d="M-0 175.69 C30.53 236.75 -30.53 236.75 -0 175.69Z" stroke="#9d46a3" stroke-opacity="0.6" stroke-width="2.5"/>
<path d="M1.76 179.36 L-0 175.69" stroke="#9d46a3" stroke-opacity="0.6" stroke-width="2.5"/>
<polygon points="6.91,182.08 5.94,181.52 4.92,180.85 3.81,180 2.55,178.81 0.29,175.56 -0.29,175.83 0.84,179.63 0.97,181.36 0.94,182.76 0.82,183.97 0.66,185.08" fill="#9d46a3" stroke="#9d46a3" opacity="0.75" stroke-width="1.75"/>
<path d="M153.77 -5.23 L153.39 -5.49 L151.03 -7.12 L145.64 -10.85 L137.36 -16.63 L127.28 -23.75 L116.75 -31.3 L106.8 -38.59 L97.92 -45.3 L90.2 -51.41 L83.44 -57.06 L77.38 -62.51 L71.73 -67.96 L66.27 -73.62 L60.83 -79.68 L55.17 -86.43 L49.07 -94.16 L42.36 -103.03 L35.06 -112.98 L27.52 -123.51 L20.4 -133.59 L14.62 -141.87 L10.88 -147.26 L9.26 -149.62 L8.99 -150.01" stroke="#fb4a12" stroke-opacity="0.6" stroke-width="1.5"/>
<path d="M151.61 -0 L150.93 0.13 L146.72 0.9 L137.12 2.65 L122.31 5.28 L104.2 8.4 L85.17 11.54 L67.02 14.34 L50.61 16.61 L36.04 18.32 L22.97 19.47 L10.86 20.12 L-0.83 20.33 L-12.53 20.12 L-24.64 19.47 L-37.71 18.32 L-52.28 16.61 L-68.69 14.34 L-86.84 11.54 L-105.87 8.4 L-123.98 5.28 L-138.79 2.65 L-148.39 0.9 L-152.6 0.13 L-153.28 -0" stroke="#fb4a12" stroke-opacity="0.6" stroke-width="4.5"/>
<path d="M153.77 5.23 L153.52 5.6 L151.92 7.92 L148.26 13.21 L142.59 21.32 L135.61 31.21 L128.21 41.54 L121.06 51.29 L114.48 59.99 L108.49 67.57 L102.94 74.19 L97.61 80.13 L92.25 85.68 L86.71 91.03 L80.77 96.37 L74.15 101.91 L66.57 107.9 L57.87 114.48 L48.11 121.63 L37.79 129.03 L27.9 136.01 L19.78 141.68 L14.5 145.34 L12.18 146.94 L11.81 147.19" stroke="#fb4a12" stroke-opacity="0.6" stroke-width="6"/>
<path d="M8.99 -150.01 L9.38 -149.74 L11.74 -148.12 L17.13 -144.38 L25.41 -138.6 L35.49 -131.48 L46.02 -123.94 L55.97 -116.64 L64.84 -109.93 L72.57 -103.83 L79.32 -98.17 L85.38 -92.73 L91.04 -87.27 L96.49 -81.62 L101.94 -75.56 L107.59 -68.8 L113.7 -61.08 L120.41 -52.2 L127.7 -42.25 L135.25 -31.72 L142.37 -21.64 L148.15 -13.36 L151.88 -7.97 L153.51 -5.61 L153.77 -5.23" stroke="#3e7ac0" stroke-opacity="0.6" stroke-width="12"/>
<path d="M-8.99 -150.01 L-9.26 -149.62 L-10.9 -147.24 L-14.66 -141.8 L-20.49 -133.46 L-27.67 -123.29 L-35.28 -112.68 L-42.63 -102.65 L-49.39 -93.7 L-55.55 -85.91 L-61.25 -79.1 L-66.74 -72.99 L-72.24 -67.3 L-77.94 -61.79 L-84.05 -56.31 L-90.86 -50.6 L-98.65 -44.45 L-107.59 -37.68 L-117.62 -30.33 L-128.24 -22.72 L-138.4 -15.54 L-146.75 -9.72 L-152.18 -5.95 L-154.57 -4.31 L-154.95 -4.05" stroke="#3e7ac0" stroke-opacity="0.6" stroke-width="29"/>
<path d="M-0 -146.28 L0.12 -145.64 L0.85 -141.66 L2.5 -132.57 L4.99 -118.55 L7.95 -101.41 L10.92 -83.4 L13.57 -66.21 L15.72 -50.68 L17.34 -36.89 L18.43 -24.52 L19.05 -13.06 L19.24 -1.99 L19.05 9.09 L18.43 20.55 L17.34 32.92 L15.72 46.71 L13.57 62.24 L10.92 79.42 L7.95 97.44 L4.99 114.58 L2.5 128.59 L0.85 137.68 L0.12 141.66 L-0 142.31" stroke="#3e7ac0" stroke-opacity="0.6" stroke-width="21"/>
<path d="M-153.28 -0 L-152.6 -0.13 L-148.39 -0.9 L-138.79 -2.65 L-123.98 -5.28 L-105.87 -8.4 L-86.84 -11.54 L-68.69 -14.34 L-52.28 -16.61 L-37.71 -18.32 L-24.64 -19.47 L-12.53 -20.12 L-0.83 -20.33 L10.86 -20.12 L22.97 -19.47 L36.04 -18.32 L50.61 -16.61 L67.02 -14.34 L85.17 -11.54 L104.2 -8.4 L122.31 -5.28 L137.12 -2.65 L146.72 -0.9 L150.93 -0.13 L151.61 -0" stroke="#44b244" stroke-opacity="0.6" stroke-width="1.9"/>
<path d="M-154.95 -4.05 L-154.69 -4.43 L-153.05 -6.82 L-149.28 -12.25 L-143.46 -20.6 L-136.28 -30.76 L-128.67 -41.38 L-121.32 -51.41 L-114.55 -60.35 L-108.4 -68.14 L-102.69 -74.95 L-97.21 -81.06 L-91.7 -86.76 L-86.01 -92.26 L-79.9 -97.75 L-73.09 -103.45 L-65.3 -109.61 L-56.35 -116.37 L-46.32 -123.72 L-35.71 -131.33 L-25.54 -138.51 L-17.2 -144.34 L-11.76 -148.1 L-9.38 -149.74 L-8.99 -150.01" stroke="#44b244" stroke-opacity="0.6" stroke-width="1.2"/>
<path d="M-154.95 4.05 L-154.57 4.31 L-152.24 5.92 L-146.91 9.61 L-138.72 15.32 L-128.75 22.36 L-118.34 29.82 L-108.51 37.03 L-99.73 43.67 L-92.09 49.71 L-85.41 55.3 L-79.42 60.68 L-73.84 66.08 L-68.44 71.67 L-63.06 77.66 L-57.46 84.34 L-51.43 91.97 L-44.79 100.75 L-37.58 110.59 L-30.12 121 L-23.08 130.96 L-17.37 139.15 L-13.67 144.48 L-12.06 146.82 L-11.81 147.19" stroke="#44b244" stroke-opacity="0.6" stroke-width="5"/>
<path d="M11.81 147.19 L12.06 146.82 L13.66 144.5 L17.32 139.22 L22.99 131.1 L29.97 121.21 L37.37 110.89 L44.52 101.13 L51.1 92.43 L57.09 84.85 L62.63 78.23 L67.97 72.29 L73.32 66.75 L78.87 61.39 L84.81 56.06 L91.43 50.51 L99.01 44.52 L107.71 37.94 L117.46 30.79 L127.79 23.39 L137.68 16.41 L145.79 10.74 L151.08 7.08 L153.4 5.48 L153.77 5.23" stroke="#9d46a3" stroke-opacity="0.6" stroke-width="1.5"/>
<path d="M-0 142.31 L-0.12 141.66 L-0.85 137.68 L-2.5 128.59 L-4.99 114.58 L-7.95 97.44 L-10.92 79.42 L-13.57 62.24 L-15.72 46.71 L-17.34 32.92 L-18.43 20.55 L-19.05 9.09 L-19.24 -1.99 L-19.05 -13.06 L-18.43 -24.52 L-17.34 -36.89 L-15.72 -50.68 L-13.57 -66.21 L-10.92 -83.4 L-7.95 -101.41 L-4.99 -118.55 L-2.5 -132.57 L-0.85 -141.66 L-0.12 -145.64 L-0 -146.28" stroke="#9d46a3" stroke-opacity="0.6" stroke-width="1"/>
<path d="M-11.81 147.19 L-12.18 146.94 L-14.52 145.33 L-19.85 141.63 L-28.04 135.92 L-38 128.88 L-48.41 121.42 L-58.25 114.21 L-67.03 107.57 L-74.66 101.54 L-81.34 95.94 L-87.33 90.56 L-92.92 85.16 L-98.32 79.58 L-103.7 73.59 L-109.29 66.91 L-115.33 59.27 L-121.97 50.49 L-129.18 40.66 L-136.64 30.25 L-143.68 20.28 L-149.39 12.09 L-153.08 6.76 L-154.69 4.43 L-154.95 4.05" stroke="#9d46a3" stroke-opacity="0.6" stroke-width="2"/>
<polygon points="16.86,-144.85 15.82,-145.24 14.7,-145.74 13.47,-146.39 12.02,-147.35 9.25,-150.19 8.73,-149.82 10.47,-146.26 10.89,-144.58 11.09,-143.2 11.18,-141.98 11.19,-140.86" fill="#fb4a12" stroke="#fb4a12" opacity="0.7" stroke-width="1.2"/>
<polygon points="-144.07,-1.92 -145.08,-1.46 -146.22,-1.02 -147.56,-0.61 -149.26,-0.26 -153.22,-0.31 -153.33,0.31 -149.58,1.6 -148.1,2.5 -146.98,3.33 -146.05,4.13 -145.25,4.91" fill="#fb4a12" stroke="#fb4a12" opacity="0.7" stroke-width="1.2"/>
<polygon points="16.96,139.33 16.57,140.37 16.07,141.49 15.42,142.72 14.46,144.17 11.62,146.93 11.99,147.45 15.55,145.72 17.24,145.3 18.61,145.1 19.83,145.01 20.95,144.99" fill="#fb4a12" stroke="#fb4a12" opacity="0.7" stroke-width="1.2"/>
<polygon points="145.9,-10.38 146.95,-9.99 148.07,-9.5 149.3,-8.84 150.75,-7.88 153.51,-5.04 154.03,-5.41 152.3,-8.97 151.88,-10.66 151.68,-12.04 151.59,-13.26 151.57,-14.37" fill="#3e7ac0" stroke="#3e7ac0" opacity="0.7" stroke-width="1.2"/>
<polygon points="-149.8,-11.92 -150.19,-10.87 -150.68,-9.75 -151.34,-8.52 -152.3,-7.07 -155.14,-4.31 -154.77,-3.79 -151.21,-5.52 -149.52,-5.94 -148.14,-6.14 -146.92,-6.23 -145.81,-6.25" fill="#3e7ac0" stroke="#3e7ac0" opacity="0.7" stroke-width="1.2"/>
<polygon points="-1.92,133.1 -1.46,134.11 -1.02,135.25 -0.61,136.59 -0.26,138.29 -0.31,142.25 0.31,142.36 1.6,138.61 2.5,137.13 3.33,136.01 4.13,135.08 4.91,134.28" fill="#3e7ac0" stroke="#3e7ac0" opacity="0.7" stroke-width="1.2"/>
<polygon points="142.4,1.92 143.41,1.46 144.55,1.02 145.89,0.61 147.59,0.26 151.55,0.31 151.66,-0.31 147.92,-1.6 146.43,-2.5 145.31,-3.33 144.39,-4.13 143.58,-4.91" fill="#44b244" stroke="#44b244" opacity="0.7" stroke-width="1.2"/>
<polygon points="-14.15,-142.14 -13.76,-143.18 -13.26,-144.3 -12.61,-145.53 -11.65,-146.98 -8.81,-149.75 -9.18,-150.27 -12.74,-148.53 -14.42,-148.11 -15.8,-147.91 -17.02,-147.82 -18.14,-147.81" fill="#44b244" stroke="#44b244" opacity="0.7" stroke-width="1.2"/>
<polygon points="-19.67,142.04 -18.63,142.43 -17.51,142.93 -16.28,143.58 -14.83,144.54 -12.07,147.38 -11.55,147.01 -13.28,143.45 -13.7,141.76 -13.9,140.39 -13.99,139.17 -14.01,138.05" fill="#44b244" stroke="#44b244" opacity="0.7" stroke-width="1.2"/>
<polygon points="148.62,13.1 149.01,12.05 149.5,10.93 150.16,9.7 151.12,8.25 153.96,5.49 153.59,4.97 150.03,6.7 148.34,7.12 146.96,7.32 145.74,7.41 144.63,7.43" fill="#9d46a3" stroke="#9d46a3" opacity="0.7" stroke-width="1.2"/>
<polygon points="1.92,-137.07 1.46,-138.09 1.02,-139.23 0.61,-140.56 0.26,-142.26 0.31,-146.23 -0.31,-146.33 -1.6,-142.59 -2.5,-141.1 -3.33,-139.98 -4.13,-139.06 -4.91,-138.26" fill="#9d46a3" stroke="#9d46a3" opacity="0.7" stroke-width="1.2"/>
<polygon points="-147.08,9.2 -148.13,8.81 -149.25,8.32 -150.48,7.66 -151.93,6.7 -154.69,3.86 -155.21,4.23 -153.48,7.79 -153.06,9.48 -152.86,10.86 -152.77,12.08 -152.75,13.19" fill="#9d46a3" stroke="#9d46a3" opacity="0.7" stroke-width="1.2"/>
<circle cx="159" cy="-0" r="7.39" fill="#fe0d17" stroke="none"/>
<circle cx="0" cy="-159" r="12.72" fill="#037dbd" stroke="none"/>
<circle cx="-159" cy="-0" r="5.72" fill="#00ae3d" stroke="none"/>
<circle cx="-0" cy="159" r="16.7" fill="#a44f9f" stroke="none"/>
</g>
<text transform="translate(286.15 1211.8) scale(0.7413 1)" font-size="34.57" stroke="#000" stroke-width="0.7">Number of interactions</text>
<text transform="translate(965.48 1209) scale(0.7409 1)" font-size="34.57" stroke="#000" stroke-width="0.7">Interaction weights/strength</text>
<text transform="translate(212.34 1281.1) scale(0.7043 1)" font-size="33.57" stroke="#000" stroke-width="0.7">Cancer_associated_fibroblast(CAF)</text>
<text transform="translate(171.83 1569.5) scale(0.7068 1)" font-size="33.57" stroke="#000" stroke-width="0.7">Lipofibroblast</text>
<text transform="translate(155.65 1758.7) scale(0.7004 1)" font-size="33.57" stroke="#000" stroke-width="0.7">Myofibroblastic_cancer...associated_fibroblast_(myCAF)</text>
<g clip-path="url(#clC1)"><text transform="translate(332.75 1538.5) scale(0.7004 1)" font-size="33.57" stroke="#000" stroke-width="0.7">Antigen_presentation_cancer−associate</text></g>
<text transform="translate(920.14 1281.1) scale(0.7043 1)" font-size="33.57" stroke="#000" stroke-width="0.7">Cancer_associated_fibroblast(CAF)</text>
<text transform="translate(879.63 1569.5) scale(0.7068 1)" font-size="33.57" stroke="#000" stroke-width="0.7">Lipofibroblast</text>
<text transform="translate(863.45 1758.7) scale(0.7004 1)" font-size="33.57" stroke="#000" stroke-width="0.7">Myofibroblastic_cancer...associated_fibroblast_(myCAF)</text>
<g clip-path="url(#clC2)"><text transform="translate(1040.55 1538.5) scale(0.7004 1)" font-size="33.57" stroke="#000" stroke-width="0.7">Antigen_presentation_cancer−associate</text></g>
</svg>
</body></html>
